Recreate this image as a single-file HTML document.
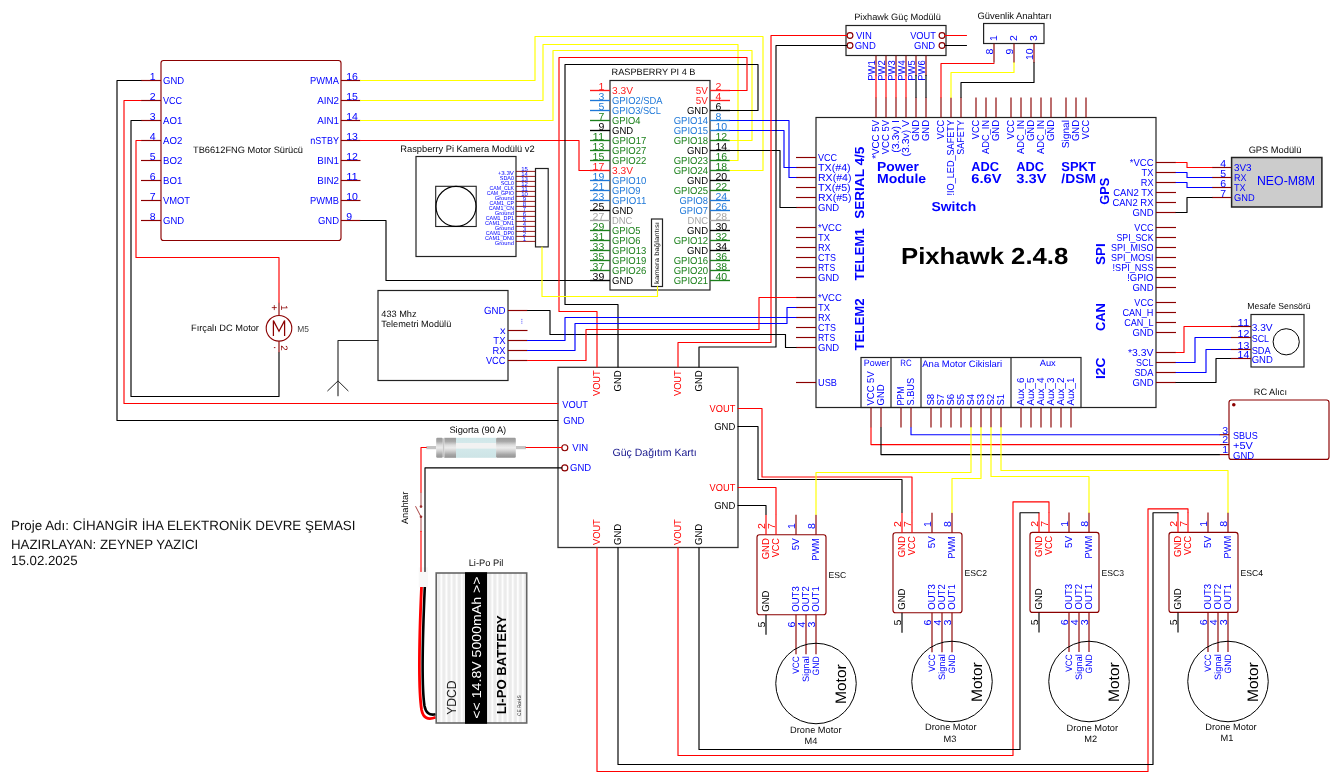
<!DOCTYPE html>
<html><head><meta charset="utf-8"><title>Cihangir IHA Elektronik Devre Semasi</title>
<style>
html,body{margin:0;padding:0;background:#fff;}
body{width:1339px;height:782px;overflow:hidden;}
svg{display:block;font-family:"Liberation Sans",sans-serif;will-change:transform;text-rendering:geometricPrecision;}
text{white-space:pre;}
</style></head><body>
<svg width="1339" height="782" viewBox="0 0 1339 782">
<rect width="1339" height="782" fill="#fff"/>
<defs>
<linearGradient id="gm" x1="0" y1="0" x2="0" y2="1">
<stop offset="0" stop-color="#9a9a9a"/><stop offset="0.18" stop-color="#a8a8a8"/><stop offset="0.36" stop-color="#dcdcdc"/>
<stop offset="0.5" stop-color="#ececec"/><stop offset="0.66" stop-color="#d0d0d0"/><stop offset="0.84" stop-color="#a6a6a6"/><stop offset="1" stop-color="#949494"/>
</linearGradient>
<linearGradient id="gg" x1="0" y1="0" x2="0" y2="1">
<stop offset="0" stop-color="#cfe6e8"/><stop offset="0.24" stop-color="#d4e9eb"/><stop offset="0.27" stop-color="#f2f2f2"/>
<stop offset="0.52" stop-color="#f2f2f2"/><stop offset="0.56" stop-color="#d2e8ea"/><stop offset="1" stop-color="#cde4e6"/>
</linearGradient>
<pattern id="bs" x="436.2" y="0" width="5.1" height="10" patternUnits="userSpaceOnUse">
<rect x="0" y="0" width="5.1" height="10" fill="#fdfdfd"/><rect x="1.1" y="0" width="3" height="10" fill="#ebebeb"/>
</pattern>
</defs>
<rect x="161" y="60.5" width="180" height="180" rx="2.5" stroke="#8b0000" stroke-width="1.15" fill="none"/>
<path d="M141 80.5L161 80.5" stroke="#8b0000" stroke-width="1.15" />
<path d="M341 80.5L360.5 80.5" stroke="#8b0000" stroke-width="1.15" />
<text font-size="10.12" fill="#0000ff" textLength="21.1" lengthAdjust="spacingAndGlyphs" x="163" y="83.9">GND</text>
<text font-size="10.12" fill="#0000ff" text-anchor="end" textLength="28.88" lengthAdjust="spacingAndGlyphs" x="339" y="83.9">PWMA</text>
<text font-size="10.12" fill="#0000ff" text-anchor="end" textLength="5.85" lengthAdjust="spacingAndGlyphs" x="155.5" y="79.7">1</text>
<text font-size="10.12" fill="#0000ff" textLength="11.71" lengthAdjust="spacingAndGlyphs" x="346.2" y="79.7">16</text>
<path d="M141 100.5L161 100.5" stroke="#8b0000" stroke-width="1.15" />
<path d="M341 100.5L360.5 100.5" stroke="#8b0000" stroke-width="1.15" />
<text font-size="10.12" fill="#0000ff" textLength="19.14" lengthAdjust="spacingAndGlyphs" x="163" y="103.9">VCC</text>
<text font-size="10.12" fill="#0000ff" text-anchor="end" textLength="21.74" lengthAdjust="spacingAndGlyphs" x="339" y="103.9">AIN2</text>
<text font-size="10.12" fill="#0000ff" text-anchor="end" textLength="5.85" lengthAdjust="spacingAndGlyphs" x="155.5" y="99.7">2</text>
<text font-size="10.12" fill="#0000ff" textLength="11.71" lengthAdjust="spacingAndGlyphs" x="346.2" y="99.7">15</text>
<path d="M141 120.5L161 120.5" stroke="#8b0000" stroke-width="1.15" />
<path d="M341 120.5L360.5 120.5" stroke="#8b0000" stroke-width="1.15" />
<text font-size="10.12" fill="#0000ff" textLength="19.23" lengthAdjust="spacingAndGlyphs" x="163" y="123.9">AO1</text>
<text font-size="10.12" fill="#0000ff" text-anchor="end" textLength="21.74" lengthAdjust="spacingAndGlyphs" x="339" y="123.9">AIN1</text>
<text font-size="10.12" fill="#0000ff" text-anchor="end" textLength="5.85" lengthAdjust="spacingAndGlyphs" x="155.5" y="119.7">3</text>
<text font-size="10.12" fill="#0000ff" textLength="11.71" lengthAdjust="spacingAndGlyphs" x="346.2" y="119.7">14</text>
<path d="M141 140.5L161 140.5" stroke="#8b0000" stroke-width="1.15" />
<path d="M341 140.5L360.5 140.5" stroke="#8b0000" stroke-width="1.15" />
<text font-size="10.12" fill="#0000ff" textLength="19.23" lengthAdjust="spacingAndGlyphs" x="163" y="143.9">AO2</text>
<text font-size="10.12" fill="#0000ff" text-anchor="end" textLength="28.72" lengthAdjust="spacingAndGlyphs" x="339" y="143.9">nSTBY</text>
<text font-size="10.12" fill="#0000ff" text-anchor="end" textLength="5.85" lengthAdjust="spacingAndGlyphs" x="155.5" y="139.7">4</text>
<text font-size="10.12" fill="#0000ff" textLength="11.71" lengthAdjust="spacingAndGlyphs" x="346.2" y="139.7">13</text>
<path d="M141 160.5L161 160.5" stroke="#8b0000" stroke-width="1.15" />
<path d="M341 160.5L360.5 160.5" stroke="#8b0000" stroke-width="1.15" />
<text font-size="10.12" fill="#0000ff" textLength="19.24" lengthAdjust="spacingAndGlyphs" x="163" y="163.9">BO2</text>
<text font-size="10.12" fill="#0000ff" text-anchor="end" textLength="21.76" lengthAdjust="spacingAndGlyphs" x="339" y="163.9">BIN1</text>
<text font-size="10.12" fill="#0000ff" text-anchor="end" textLength="5.85" lengthAdjust="spacingAndGlyphs" x="155.5" y="159.7">5</text>
<text font-size="10.12" fill="#0000ff" textLength="11.71" lengthAdjust="spacingAndGlyphs" x="346.2" y="159.7">12</text>
<path d="M141 180.5L161 180.5" stroke="#8b0000" stroke-width="1.15" />
<path d="M341 180.5L360.5 180.5" stroke="#8b0000" stroke-width="1.15" />
<text font-size="10.12" fill="#0000ff" textLength="19.24" lengthAdjust="spacingAndGlyphs" x="163" y="183.9">BO1</text>
<text font-size="10.12" fill="#0000ff" text-anchor="end" textLength="21.76" lengthAdjust="spacingAndGlyphs" x="339" y="183.9">BIN2</text>
<text font-size="10.12" fill="#0000ff" text-anchor="end" textLength="5.85" lengthAdjust="spacingAndGlyphs" x="155.5" y="179.7">6</text>
<text font-size="10.12" fill="#0000ff" textLength="11.71" lengthAdjust="spacingAndGlyphs" x="346.2" y="179.7">11</text>
<path d="M141 200.5L161 200.5" stroke="#8b0000" stroke-width="1.15" />
<path d="M341 200.5L360.5 200.5" stroke="#8b0000" stroke-width="1.15" />
<text font-size="10.12" fill="#0000ff" textLength="27.09" lengthAdjust="spacingAndGlyphs" x="163" y="203.9">VMOT</text>
<text font-size="10.12" fill="#0000ff" text-anchor="end" textLength="28.89" lengthAdjust="spacingAndGlyphs" x="339" y="203.9">PWMB</text>
<text font-size="10.12" fill="#0000ff" text-anchor="end" textLength="5.85" lengthAdjust="spacingAndGlyphs" x="155.5" y="199.7">7</text>
<text font-size="10.12" fill="#0000ff" textLength="11.71" lengthAdjust="spacingAndGlyphs" x="346.2" y="199.7">10</text>
<path d="M141 220.5L161 220.5" stroke="#8b0000" stroke-width="1.15" />
<path d="M341 220.5L360.5 220.5" stroke="#8b0000" stroke-width="1.15" />
<text font-size="10.12" fill="#0000ff" textLength="21.1" lengthAdjust="spacingAndGlyphs" x="163" y="223.9">GND</text>
<text font-size="10.12" fill="#0000ff" text-anchor="end" textLength="21.1" lengthAdjust="spacingAndGlyphs" x="339" y="223.9">GND</text>
<text font-size="10.12" fill="#0000ff" text-anchor="end" textLength="5.85" lengthAdjust="spacingAndGlyphs" x="155.5" y="219.7">8</text>
<text font-size="10.12" fill="#0000ff" textLength="5.85" lengthAdjust="spacingAndGlyphs" x="346.2" y="219.7">9</text>
<text font-size="9.25" fill="#0a0a0a" text-anchor="middle" x="248" y="153">TB6612FNG Motor Sürücü</text>
<rect x="610" y="80.5" width="100" height="209.5" stroke="#222" stroke-width="1.2" fill="none"/>
<path d="M590 90.5L610 90.5" stroke="#ff1a1a" stroke-width="1.35" />
<text font-size="10.12" fill="#ff1a1a" textLength="20.92" lengthAdjust="spacingAndGlyphs" x="612" y="93.9">3.3V</text>
<text font-size="10.12" fill="#ff1a1a" text-anchor="end" textLength="5.85" lengthAdjust="spacingAndGlyphs" x="604.3" y="89.7">1</text>
<path d="M710 90.5L730 90.5" stroke="#ff1a1a" stroke-width="1.35" />
<text font-size="10.12" fill="#ff1a1a" text-anchor="end" textLength="12.15" lengthAdjust="spacingAndGlyphs" x="708" y="93.9">5V</text>
<text font-size="10.12" fill="#ff1a1a" textLength="5.85" lengthAdjust="spacingAndGlyphs" x="715.5" y="89.7">2</text>
<path d="M590 100.5L610 100.5" stroke="#1e78d8" stroke-width="1.35" />
<text font-size="10.12" fill="#1e78d8" textLength="50.64" lengthAdjust="spacingAndGlyphs" x="612" y="103.9">GPIO2/SDA</text>
<text font-size="10.12" fill="#1e78d8" text-anchor="end" textLength="5.85" lengthAdjust="spacingAndGlyphs" x="604.3" y="99.7">3</text>
<path d="M710 100.5L730 100.5" stroke="#ff1a1a" stroke-width="1.35" />
<text font-size="10.12" fill="#ff1a1a" text-anchor="end" textLength="12.15" lengthAdjust="spacingAndGlyphs" x="708" y="103.9">5V</text>
<text font-size="10.12" fill="#ff1a1a" textLength="5.85" lengthAdjust="spacingAndGlyphs" x="715.5" y="99.7">4</text>
<path d="M590 110.5L610 110.5" stroke="#1e78d8" stroke-width="1.35" />
<text font-size="10.12" fill="#1e78d8" textLength="48.97" lengthAdjust="spacingAndGlyphs" x="612" y="113.9">GPIO3/SCL</text>
<text font-size="10.12" fill="#1e78d8" text-anchor="end" textLength="5.85" lengthAdjust="spacingAndGlyphs" x="604.3" y="109.7">5</text>
<path d="M710 110.5L730 110.5" stroke="#000" stroke-width="1.35" />
<text font-size="10.12" fill="#000" text-anchor="end" textLength="21.1" lengthAdjust="spacingAndGlyphs" x="708" y="113.9">GND</text>
<text font-size="10.12" fill="#000" textLength="5.85" lengthAdjust="spacingAndGlyphs" x="715.5" y="109.7">6</text>
<path d="M590 120.5L610 120.5" stroke="#1c801c" stroke-width="1.35" />
<text font-size="10.12" fill="#1c801c" textLength="28.49" lengthAdjust="spacingAndGlyphs" x="612" y="123.9">GPIO4</text>
<text font-size="10.12" fill="#1c801c" text-anchor="end" textLength="5.85" lengthAdjust="spacingAndGlyphs" x="604.3" y="119.7">7</text>
<path d="M710 120.5L730 120.5" stroke="#1e78d8" stroke-width="1.35" />
<text font-size="10.12" fill="#1e78d8" text-anchor="end" textLength="34.34" lengthAdjust="spacingAndGlyphs" x="708" y="123.9">GPIO14</text>
<text font-size="10.12" fill="#1e78d8" textLength="5.85" lengthAdjust="spacingAndGlyphs" x="715.5" y="119.7">8</text>
<path d="M590 130.5L610 130.5" stroke="#000" stroke-width="1.35" />
<text font-size="10.12" fill="#000" textLength="21.1" lengthAdjust="spacingAndGlyphs" x="612" y="133.9">GND</text>
<text font-size="10.12" fill="#000" text-anchor="end" textLength="5.85" lengthAdjust="spacingAndGlyphs" x="604.3" y="129.7">9</text>
<path d="M710 130.5L730 130.5" stroke="#1e78d8" stroke-width="1.35" />
<text font-size="10.12" fill="#1e78d8" text-anchor="end" textLength="34.34" lengthAdjust="spacingAndGlyphs" x="708" y="133.9">GPIO15</text>
<text font-size="10.12" fill="#1e78d8" textLength="11.71" lengthAdjust="spacingAndGlyphs" x="715.5" y="129.7">10</text>
<path d="M590 140.5L610 140.5" stroke="#1c801c" stroke-width="1.35" />
<text font-size="10.12" fill="#1c801c" textLength="34.34" lengthAdjust="spacingAndGlyphs" x="612" y="143.9">GPIO17</text>
<text font-size="10.12" fill="#1c801c" text-anchor="end" textLength="11.71" lengthAdjust="spacingAndGlyphs" x="604.3" y="139.7">11</text>
<path d="M710 140.5L730 140.5" stroke="#1c801c" stroke-width="1.35" />
<text font-size="10.12" fill="#1c801c" text-anchor="end" textLength="34.34" lengthAdjust="spacingAndGlyphs" x="708" y="143.9">GPIO18</text>
<text font-size="10.12" fill="#1c801c" textLength="11.71" lengthAdjust="spacingAndGlyphs" x="715.5" y="139.7">12</text>
<path d="M590 150.5L610 150.5" stroke="#1c801c" stroke-width="1.35" />
<text font-size="10.12" fill="#1c801c" textLength="34.34" lengthAdjust="spacingAndGlyphs" x="612" y="153.9">GPIO27</text>
<text font-size="10.12" fill="#1c801c" text-anchor="end" textLength="11.71" lengthAdjust="spacingAndGlyphs" x="604.3" y="149.7">13</text>
<path d="M710 150.5L730 150.5" stroke="#000" stroke-width="1.35" />
<text font-size="10.12" fill="#000" text-anchor="end" textLength="21.1" lengthAdjust="spacingAndGlyphs" x="708" y="153.9">GND</text>
<text font-size="10.12" fill="#000" textLength="11.71" lengthAdjust="spacingAndGlyphs" x="715.5" y="149.7">14</text>
<path d="M590 160.5L610 160.5" stroke="#1c801c" stroke-width="1.35" />
<text font-size="10.12" fill="#1c801c" textLength="34.34" lengthAdjust="spacingAndGlyphs" x="612" y="163.9">GPIO22</text>
<text font-size="10.12" fill="#1c801c" text-anchor="end" textLength="11.71" lengthAdjust="spacingAndGlyphs" x="604.3" y="159.7">15</text>
<path d="M710 160.5L730 160.5" stroke="#1c801c" stroke-width="1.35" />
<text font-size="10.12" fill="#1c801c" text-anchor="end" textLength="34.34" lengthAdjust="spacingAndGlyphs" x="708" y="163.9">GPIO23</text>
<text font-size="10.12" fill="#1c801c" textLength="11.71" lengthAdjust="spacingAndGlyphs" x="715.5" y="159.7">16</text>
<path d="M590 170.5L610 170.5" stroke="#ff1a1a" stroke-width="1.35" />
<text font-size="10.12" fill="#ff1a1a" textLength="20.92" lengthAdjust="spacingAndGlyphs" x="612" y="173.9">3.3V</text>
<text font-size="10.12" fill="#ff1a1a" text-anchor="end" textLength="11.71" lengthAdjust="spacingAndGlyphs" x="604.3" y="169.7">17</text>
<path d="M710 170.5L730 170.5" stroke="#1c801c" stroke-width="1.35" />
<text font-size="10.12" fill="#1c801c" text-anchor="end" textLength="34.34" lengthAdjust="spacingAndGlyphs" x="708" y="173.9">GPIO24</text>
<text font-size="10.12" fill="#1c801c" textLength="11.71" lengthAdjust="spacingAndGlyphs" x="715.5" y="169.7">18</text>
<path d="M590 180.5L610 180.5" stroke="#1e78d8" stroke-width="1.35" />
<text font-size="10.12" fill="#1e78d8" textLength="34.34" lengthAdjust="spacingAndGlyphs" x="612" y="183.9">GPIO10</text>
<text font-size="10.12" fill="#1e78d8" text-anchor="end" textLength="11.71" lengthAdjust="spacingAndGlyphs" x="604.3" y="179.7">19</text>
<path d="M710 180.5L730 180.5" stroke="#000" stroke-width="1.35" />
<text font-size="10.12" fill="#000" text-anchor="end" textLength="21.1" lengthAdjust="spacingAndGlyphs" x="708" y="183.9">GND</text>
<text font-size="10.12" fill="#000" textLength="11.71" lengthAdjust="spacingAndGlyphs" x="715.5" y="179.7">20</text>
<path d="M590 190.5L610 190.5" stroke="#1e78d8" stroke-width="1.35" />
<text font-size="10.12" fill="#1e78d8" textLength="28.49" lengthAdjust="spacingAndGlyphs" x="612" y="193.9">GPIO9</text>
<text font-size="10.12" fill="#1e78d8" text-anchor="end" textLength="11.71" lengthAdjust="spacingAndGlyphs" x="604.3" y="189.7">21</text>
<path d="M710 190.5L730 190.5" stroke="#1c801c" stroke-width="1.35" />
<text font-size="10.12" fill="#1c801c" text-anchor="end" textLength="34.34" lengthAdjust="spacingAndGlyphs" x="708" y="193.9">GPIO25</text>
<text font-size="10.12" fill="#1c801c" textLength="11.71" lengthAdjust="spacingAndGlyphs" x="715.5" y="189.7">22</text>
<path d="M590 200.5L610 200.5" stroke="#1e78d8" stroke-width="1.35" />
<text font-size="10.12" fill="#1e78d8" textLength="34.34" lengthAdjust="spacingAndGlyphs" x="612" y="203.9">GPIO11</text>
<text font-size="10.12" fill="#1e78d8" text-anchor="end" textLength="11.71" lengthAdjust="spacingAndGlyphs" x="604.3" y="199.7">23</text>
<path d="M710 200.5L730 200.5" stroke="#1e78d8" stroke-width="1.35" />
<text font-size="10.12" fill="#1e78d8" text-anchor="end" textLength="28.49" lengthAdjust="spacingAndGlyphs" x="708" y="203.9">GPIO8</text>
<text font-size="10.12" fill="#1e78d8" textLength="11.71" lengthAdjust="spacingAndGlyphs" x="715.5" y="199.7">24</text>
<path d="M590 210.5L610 210.5" stroke="#000" stroke-width="1.35" />
<text font-size="10.12" fill="#000" textLength="21.1" lengthAdjust="spacingAndGlyphs" x="612" y="213.9">GND</text>
<text font-size="10.12" fill="#000" text-anchor="end" textLength="11.71" lengthAdjust="spacingAndGlyphs" x="604.3" y="209.7">25</text>
<path d="M710 210.5L730 210.5" stroke="#1e78d8" stroke-width="1.35" />
<text font-size="10.12" fill="#1e78d8" text-anchor="end" textLength="28.49" lengthAdjust="spacingAndGlyphs" x="708" y="213.9">GPIO7</text>
<text font-size="10.12" fill="#1e78d8" textLength="11.71" lengthAdjust="spacingAndGlyphs" x="715.5" y="209.7">26</text>
<path d="M590 220.5L610 220.5" stroke="#a5a5a5" stroke-width="1.35" />
<text font-size="10.12" fill="#a5a5a5" textLength="20.39" lengthAdjust="spacingAndGlyphs" x="612" y="223.9">DNC</text>
<text font-size="10.12" fill="#a5a5a5" text-anchor="end" textLength="11.71" lengthAdjust="spacingAndGlyphs" x="604.3" y="219.7">27</text>
<path d="M710 220.5L730 220.5" stroke="#a5a5a5" stroke-width="1.35" />
<text font-size="10.12" fill="#a5a5a5" text-anchor="end" textLength="20.39" lengthAdjust="spacingAndGlyphs" x="708" y="223.9">DNC</text>
<text font-size="10.12" fill="#a5a5a5" textLength="11.71" lengthAdjust="spacingAndGlyphs" x="715.5" y="219.7">28</text>
<path d="M590 230.5L610 230.5" stroke="#1c801c" stroke-width="1.35" />
<text font-size="10.12" fill="#1c801c" textLength="28.49" lengthAdjust="spacingAndGlyphs" x="612" y="233.9">GPIO5</text>
<text font-size="10.12" fill="#1c801c" text-anchor="end" textLength="11.71" lengthAdjust="spacingAndGlyphs" x="604.3" y="229.7">29</text>
<path d="M710 230.5L730 230.5" stroke="#000" stroke-width="1.35" />
<text font-size="10.12" fill="#000" text-anchor="end" textLength="21.1" lengthAdjust="spacingAndGlyphs" x="708" y="233.9">GND</text>
<text font-size="10.12" fill="#000" textLength="11.71" lengthAdjust="spacingAndGlyphs" x="715.5" y="229.7">30</text>
<path d="M590 240.5L610 240.5" stroke="#1c801c" stroke-width="1.35" />
<text font-size="10.12" fill="#1c801c" textLength="28.49" lengthAdjust="spacingAndGlyphs" x="612" y="243.9">GPIO6</text>
<text font-size="10.12" fill="#1c801c" text-anchor="end" textLength="11.71" lengthAdjust="spacingAndGlyphs" x="604.3" y="239.7">31</text>
<path d="M710 240.5L730 240.5" stroke="#1c801c" stroke-width="1.35" />
<text font-size="10.12" fill="#1c801c" text-anchor="end" textLength="34.34" lengthAdjust="spacingAndGlyphs" x="708" y="243.9">GPIO12</text>
<text font-size="10.12" fill="#1c801c" textLength="11.71" lengthAdjust="spacingAndGlyphs" x="715.5" y="239.7">32</text>
<path d="M590 250.5L610 250.5" stroke="#1c801c" stroke-width="1.35" />
<text font-size="10.12" fill="#1c801c" textLength="34.34" lengthAdjust="spacingAndGlyphs" x="612" y="253.9">GPIO13</text>
<text font-size="10.12" fill="#1c801c" text-anchor="end" textLength="11.71" lengthAdjust="spacingAndGlyphs" x="604.3" y="249.7">33</text>
<path d="M710 250.5L730 250.5" stroke="#000" stroke-width="1.35" />
<text font-size="10.12" fill="#000" text-anchor="end" textLength="21.1" lengthAdjust="spacingAndGlyphs" x="708" y="253.9">GND</text>
<text font-size="10.12" fill="#000" textLength="11.71" lengthAdjust="spacingAndGlyphs" x="715.5" y="249.7">34</text>
<path d="M590 260.5L610 260.5" stroke="#1c801c" stroke-width="1.35" />
<text font-size="10.12" fill="#1c801c" textLength="34.34" lengthAdjust="spacingAndGlyphs" x="612" y="263.9">GPIO19</text>
<text font-size="10.12" fill="#1c801c" text-anchor="end" textLength="11.71" lengthAdjust="spacingAndGlyphs" x="604.3" y="259.7">35</text>
<path d="M710 260.5L730 260.5" stroke="#1c801c" stroke-width="1.35" />
<text font-size="10.12" fill="#1c801c" text-anchor="end" textLength="34.34" lengthAdjust="spacingAndGlyphs" x="708" y="263.9">GPIO16</text>
<text font-size="10.12" fill="#1c801c" textLength="11.71" lengthAdjust="spacingAndGlyphs" x="715.5" y="259.7">36</text>
<path d="M590 270.5L610 270.5" stroke="#1c801c" stroke-width="1.35" />
<text font-size="10.12" fill="#1c801c" textLength="34.34" lengthAdjust="spacingAndGlyphs" x="612" y="273.9">GPIO26</text>
<text font-size="10.12" fill="#1c801c" text-anchor="end" textLength="11.71" lengthAdjust="spacingAndGlyphs" x="604.3" y="269.7">37</text>
<path d="M710 270.5L730 270.5" stroke="#1c801c" stroke-width="1.35" />
<text font-size="10.12" fill="#1c801c" text-anchor="end" textLength="34.34" lengthAdjust="spacingAndGlyphs" x="708" y="273.9">GPIO20</text>
<text font-size="10.12" fill="#1c801c" textLength="11.71" lengthAdjust="spacingAndGlyphs" x="715.5" y="269.7">38</text>
<path d="M590 280.5L610 280.5" stroke="#000" stroke-width="1.35" />
<text font-size="10.12" fill="#000" textLength="21.1" lengthAdjust="spacingAndGlyphs" x="612" y="283.9">GND</text>
<text font-size="10.12" fill="#000" text-anchor="end" textLength="11.71" lengthAdjust="spacingAndGlyphs" x="604.3" y="279.7">39</text>
<path d="M710 280.5L730 280.5" stroke="#1c801c" stroke-width="1.35" />
<text font-size="10.12" fill="#1c801c" text-anchor="end" textLength="34.34" lengthAdjust="spacingAndGlyphs" x="708" y="283.9">GPIO21</text>
<text font-size="10.12" fill="#1c801c" textLength="11.71" lengthAdjust="spacingAndGlyphs" x="715.5" y="279.7">40</text>
<text font-size="9.2" fill="#0a0a0a" x="611.5" y="75.3">RASPBERRY PI 4 B</text>
<rect x="651.5" y="219" width="11" height="67.5" stroke="#222" stroke-width="1.2" fill="#fff"/>
<text font-size="6.6" fill="#0a0a0a" textLength="62" lengthAdjust="spacingAndGlyphs" transform="translate(659.3 284) rotate(-90)">kamera bağlantısı</text>
<rect x="416" y="156.5" width="100" height="100" stroke="#222" stroke-width="1.2" fill="none"/>
<rect x="435.7" y="186.3" width="40.5" height="40.2" stroke="#222" stroke-width="1.1" fill="none"/>
<circle cx="456" cy="206.4" r="20" stroke="#000" stroke-width="1.1" fill="none"/>
<rect x="535.5" y="168.5" width="12.7" height="78.4" stroke="#222" stroke-width="1.2" fill="#fff"/>
<path d="M516 171.4L535.5 171.4" stroke="#8b0000" stroke-width="0.9" />
<text font-size="5.78" fill="#0000ff" text-anchor="end" textLength="16.34" lengthAdjust="spacingAndGlyphs" x="514" y="174.6">+3.3V</text>
<text font-size="5.78" fill="#0000ff" text-anchor="middle" textLength="6.68" lengthAdjust="spacingAndGlyphs" x="524.5" y="170.8">15</text>
<path d="M516 176.4L535.5 176.4" stroke="#8b0000" stroke-width="0.9" />
<text font-size="5.78" fill="#0000ff" text-anchor="end" textLength="14.21" lengthAdjust="spacingAndGlyphs" x="514" y="179.6">SDA0</text>
<text font-size="5.78" fill="#0000ff" text-anchor="middle" textLength="6.68" lengthAdjust="spacingAndGlyphs" x="524.5" y="175.8">14</text>
<path d="M516 181.4L535.5 181.4" stroke="#8b0000" stroke-width="0.9" />
<text font-size="5.78" fill="#0000ff" text-anchor="end" textLength="13.26" lengthAdjust="spacingAndGlyphs" x="514" y="184.6">SCL0</text>
<text font-size="5.78" fill="#0000ff" text-anchor="middle" textLength="6.68" lengthAdjust="spacingAndGlyphs" x="524.5" y="180.8">13</text>
<path d="M516 186.4L535.5 186.4" stroke="#8b0000" stroke-width="0.9" />
<text font-size="5.78" fill="#0000ff" text-anchor="end" textLength="24.45" lengthAdjust="spacingAndGlyphs" x="514" y="189.6">CAM_CLK</text>
<text font-size="5.78" fill="#0000ff" text-anchor="middle" textLength="6.68" lengthAdjust="spacingAndGlyphs" x="524.5" y="185.8">12</text>
<path d="M516 191.4L535.5 191.4" stroke="#8b0000" stroke-width="0.9" />
<text font-size="5.78" fill="#0000ff" text-anchor="end" textLength="27.33" lengthAdjust="spacingAndGlyphs" x="514" y="194.6">CAM_GPIO</text>
<text font-size="5.78" fill="#0000ff" text-anchor="middle" textLength="6.68" lengthAdjust="spacingAndGlyphs" x="524.5" y="190.8">11</text>
<path d="M516 196.4L535.5 196.4" stroke="#8b0000" stroke-width="0.9" />
<text font-size="5.78" fill="#0000ff" text-anchor="end" textLength="19.31" lengthAdjust="spacingAndGlyphs" x="514" y="199.6">Ground</text>
<text font-size="5.78" fill="#0000ff" text-anchor="middle" textLength="6.68" lengthAdjust="spacingAndGlyphs" x="524.5" y="195.8">10</text>
<path d="M516 201.4L535.5 201.4" stroke="#8b0000" stroke-width="0.9" />
<text font-size="5.78" fill="#0000ff" text-anchor="end" textLength="24.58" lengthAdjust="spacingAndGlyphs" x="514" y="204.6">CAM1_CP</text>
<text font-size="5.78" fill="#0000ff" text-anchor="middle" textLength="3.34" lengthAdjust="spacingAndGlyphs" x="524.5" y="200.8">9</text>
<path d="M516 206.4L535.5 206.4" stroke="#8b0000" stroke-width="0.9" />
<text font-size="5.78" fill="#0000ff" text-anchor="end" textLength="25.35" lengthAdjust="spacingAndGlyphs" x="514" y="209.6">CAM1_CN</text>
<text font-size="5.78" fill="#0000ff" text-anchor="middle" textLength="3.34" lengthAdjust="spacingAndGlyphs" x="524.5" y="205.8">8</text>
<path d="M516 211.4L535.5 211.4" stroke="#8b0000" stroke-width="0.9" />
<text font-size="5.78" fill="#0000ff" text-anchor="end" textLength="19.31" lengthAdjust="spacingAndGlyphs" x="514" y="214.6">Ground</text>
<text font-size="5.78" fill="#0000ff" text-anchor="middle" textLength="3.34" lengthAdjust="spacingAndGlyphs" x="524.5" y="210.8">7</text>
<path d="M516 216.4L535.5 216.4" stroke="#8b0000" stroke-width="0.9" />
<text font-size="5.78" fill="#0000ff" text-anchor="end" textLength="28.3" lengthAdjust="spacingAndGlyphs" x="514" y="219.6">CAM1_DP1</text>
<text font-size="5.78" fill="#0000ff" text-anchor="middle" textLength="3.34" lengthAdjust="spacingAndGlyphs" x="524.5" y="215.8">6</text>
<path d="M516 221.4L535.5 221.4" stroke="#8b0000" stroke-width="0.9" />
<text font-size="5.78" fill="#0000ff" text-anchor="end" textLength="29.06" lengthAdjust="spacingAndGlyphs" x="514" y="224.6">CAM1_DN1</text>
<text font-size="5.78" fill="#0000ff" text-anchor="middle" textLength="3.34" lengthAdjust="spacingAndGlyphs" x="524.5" y="220.8">5</text>
<path d="M516 226.4L535.5 226.4" stroke="#8b0000" stroke-width="0.9" />
<text font-size="5.78" fill="#0000ff" text-anchor="end" textLength="19.31" lengthAdjust="spacingAndGlyphs" x="514" y="229.6">Ground</text>
<text font-size="5.78" fill="#0000ff" text-anchor="middle" textLength="3.34" lengthAdjust="spacingAndGlyphs" x="524.5" y="225.8">4</text>
<path d="M516 231.4L535.5 231.4" stroke="#8b0000" stroke-width="0.9" />
<text font-size="5.78" fill="#0000ff" text-anchor="end" textLength="28.3" lengthAdjust="spacingAndGlyphs" x="514" y="234.6">CAM1_DP0</text>
<text font-size="5.78" fill="#0000ff" text-anchor="middle" textLength="3.34" lengthAdjust="spacingAndGlyphs" x="524.5" y="230.8">3</text>
<path d="M516 236.4L535.5 236.4" stroke="#8b0000" stroke-width="0.9" />
<text font-size="5.78" fill="#0000ff" text-anchor="end" textLength="29.06" lengthAdjust="spacingAndGlyphs" x="514" y="239.6">CAM1_DN0</text>
<text font-size="5.78" fill="#0000ff" text-anchor="middle" textLength="3.34" lengthAdjust="spacingAndGlyphs" x="524.5" y="235.8">2</text>
<path d="M516 241.4L535.5 241.4" stroke="#8b0000" stroke-width="0.9" />
<text font-size="5.78" fill="#0000ff" text-anchor="end" textLength="19.31" lengthAdjust="spacingAndGlyphs" x="514" y="244.6">Ground</text>
<text font-size="5.78" fill="#0000ff" text-anchor="middle" textLength="3.34" lengthAdjust="spacingAndGlyphs" x="524.5" y="240.8">1</text>
<text font-size="9.3" fill="#0a0a0a" x="400.3" y="152">Raspberry Pi Kamera Modülü v2</text>
<rect x="378" y="290.5" width="130" height="90" stroke="#222" stroke-width="1.2" fill="none"/>
<path d="M508 310.5L527.5 310.5" stroke="#8b0000" stroke-width="1.15" />
<text font-size="10.34" fill="#0000ff" text-anchor="end" textLength="21.55" lengthAdjust="spacingAndGlyphs" x="505.5" y="314.4">GND</text>
<path d="M508 330.5L527.5 330.5" stroke="#8b0000" stroke-width="1.15" />
<text font-size="10.34" fill="#0000ff" text-anchor="end" textLength="5.56" lengthAdjust="spacingAndGlyphs" x="505.5" y="334.4">x</text>
<path d="M508 340.5L527.5 340.5" stroke="#8b0000" stroke-width="1.15" />
<text font-size="10.34" fill="#0000ff" text-anchor="end" textLength="12.18" lengthAdjust="spacingAndGlyphs" x="505.5" y="344.4">TX</text>
<path d="M508 350.5L527.5 350.5" stroke="#8b0000" stroke-width="1.15" />
<text font-size="10.34" fill="#0000ff" text-anchor="end" textLength="12.97" lengthAdjust="spacingAndGlyphs" x="505.5" y="354.4">RX</text>
<path d="M508 360.5L527.5 360.5" stroke="#8b0000" stroke-width="1.15" />
<text font-size="10.34" fill="#0000ff" text-anchor="end" textLength="19.56" lengthAdjust="spacingAndGlyphs" x="505.5" y="364.4">VCC</text>
<text font-size="9.2" fill="#0a0a0a" x="381.3" y="317.3">433 Mhz</text>
<text font-size="9.2" fill="#0a0a0a" x="381.3" y="327.3">Telemetri Modülü</text>
<rect x="521.4" y="318.9" width="0.9" height="0.9" fill="#3030ff"/>
<rect x="521.4" y="320.8" width="0.9" height="0.9" fill="#3030ff"/>
<rect x="521.4" y="322.7" width="0.9" height="0.9" fill="#3030ff"/>
<path d="M378 340.5L338 340.5L338 395.7" stroke="#222" stroke-width="1.1" fill="none" stroke-linejoin="round" stroke-linecap="round"/>
<path d="M327.7 390.8L338 380.9L348.1 390.8" stroke="#222" stroke-width="1.0" fill="none" stroke-linejoin="round" stroke-linecap="round"/>
<path d="M279 302.8L279 315.3" stroke="#8b0000" stroke-width="1.15" />
<path d="M279 341.2L279 352.4" stroke="#8b0000" stroke-width="1.15" />
<circle cx="279" cy="328.3" r="12.8" stroke="#8b0000" stroke-width="1.1" fill="#fff"/>
<path d="M273.4 336V320.6L279 331.2L284.6 320.6V336" stroke="#8b0000" stroke-width="1.25" fill="none" stroke-linejoin="miter"/>
<path d="M271.8 307.6H276.8M274.3 305.1V310.1" stroke="#8b0000" stroke-width="0.8" fill="none"/>
<text font-size="9.35" fill="#8b0000" text-anchor="middle" textLength="5.41" lengthAdjust="spacingAndGlyphs" transform="translate(281.3 307.8) rotate(90)">1</text>
<path d="M273.9 347.6H275.4" stroke="#8b0000" stroke-width="0.9" fill="none"/>
<text font-size="9.35" fill="#8b0000" text-anchor="middle" textLength="5.41" lengthAdjust="spacingAndGlyphs" transform="translate(281.3 347.9) rotate(90)">2</text>
<text font-size="8.58" fill="#444" textLength="11.69" lengthAdjust="spacingAndGlyphs" x="297.3" y="331.8">M5</text>
<text font-size="9.27" fill="#0a0a0a" x="191" y="331">Fırçalı DC Motor</text>
<rect x="846" y="25.5" width="100" height="30" stroke="#222" stroke-width="1.2" fill="none"/>
<circle cx="850" cy="35.5" r="2.9" stroke="#8b0000" stroke-width="1.15" fill="#fff"/>
<circle cx="850" cy="45.5" r="2.9" stroke="#8b0000" stroke-width="1.15" fill="#fff"/>
<circle cx="942" cy="35.5" r="2.9" stroke="#8b0000" stroke-width="1.15" fill="#fff"/>
<circle cx="942" cy="45.5" r="2.9" stroke="#8b0000" stroke-width="1.15" fill="#fff"/>
<text font-size="10.12" fill="#0000ff" textLength="15.89" lengthAdjust="spacingAndGlyphs" x="856" y="38.5">VIN</text>
<text font-size="10.12" fill="#0000ff" textLength="21.1" lengthAdjust="spacingAndGlyphs" x="854.7" y="49.4">GND</text>
<text font-size="10.12" fill="#0000ff" text-anchor="end" textLength="25.73" lengthAdjust="spacingAndGlyphs" x="935.9" y="38.5">VOUT</text>
<text font-size="10.12" fill="#0000ff" text-anchor="end" textLength="21.1" lengthAdjust="spacingAndGlyphs" x="935.2" y="49.4">GND</text>
<text font-size="9.22" fill="#0a0a0a" text-anchor="middle" x="897.5" y="20">Pixhawk Güç Modülü</text>
<text font-size="10.12" fill="#0000ff" textLength="20.5" lengthAdjust="spacingAndGlyphs" transform="translate(875 80.7) rotate(-90)">PW1</text>
<text font-size="10.12" fill="#0000ff" textLength="20.5" lengthAdjust="spacingAndGlyphs" transform="translate(885 80.7) rotate(-90)">PW2</text>
<text font-size="10.12" fill="#0000ff" textLength="20.5" lengthAdjust="spacingAndGlyphs" transform="translate(895 80.7) rotate(-90)">PW3</text>
<text font-size="10.12" fill="#0000ff" textLength="20.5" lengthAdjust="spacingAndGlyphs" transform="translate(905 80.7) rotate(-90)">PW4</text>
<text font-size="10.12" fill="#0000ff" textLength="20.5" lengthAdjust="spacingAndGlyphs" transform="translate(915 80.7) rotate(-90)">PW5</text>
<text font-size="10.12" fill="#0000ff" textLength="20.5" lengthAdjust="spacingAndGlyphs" transform="translate(925 80.7) rotate(-90)">PW6</text>
<rect x="983.6" y="23.5" width="60.4" height="20" stroke="#222" stroke-width="1.2" fill="none"/>
<path d="M994 43.5L994 62.8" stroke="#8b0000" stroke-width="1.15" />
<text font-size="10.12" fill="#0000ff" textLength="5.85" lengthAdjust="spacingAndGlyphs" transform="translate(997.35 40.9) rotate(-90)">1</text>
<text font-size="10.12" fill="#0000ff" textLength="5.85" lengthAdjust="spacingAndGlyphs" transform="translate(992.8 54.5) rotate(-90)">8</text>
<path d="M1014 43.5L1014 62.8" stroke="#8b0000" stroke-width="1.15" />
<text font-size="10.12" fill="#0000ff" textLength="5.85" lengthAdjust="spacingAndGlyphs" transform="translate(1017.35 40.9) rotate(-90)">2</text>
<text font-size="10.12" fill="#0000ff" textLength="5.85" lengthAdjust="spacingAndGlyphs" transform="translate(1012.8 54.5) rotate(-90)">9</text>
<path d="M1034 43.5L1034 62.8" stroke="#8b0000" stroke-width="1.15" />
<text font-size="10.12" fill="#0000ff" textLength="5.85" lengthAdjust="spacingAndGlyphs" transform="translate(1037.35 40.9) rotate(-90)">3</text>
<text font-size="10.12" fill="#0000ff" textLength="11.71" lengthAdjust="spacingAndGlyphs" transform="translate(1032.8 60) rotate(-90)">10</text>
<text font-size="9.38" fill="#0a0a0a" text-anchor="middle" x="1014.5" y="19">Güvenlik Anahtarı</text>
<rect x="816" y="117.5" width="340" height="290" stroke="#222" stroke-width="1.2" fill="none"/>
<path d="M876 97.5L876 117.5" stroke="#8b0000" stroke-width="1.15" />
<text font-size="10.12" fill="#0000ff" text-anchor="end" textLength="38.81" lengthAdjust="spacingAndGlyphs" transform="translate(879.4 120) rotate(-90)">*VCC 5V</text>
<path d="M886 97.5L886 117.5" stroke="#8b0000" stroke-width="1.15" />
<text font-size="10.12" fill="#0000ff" text-anchor="end" textLength="34.21" lengthAdjust="spacingAndGlyphs" transform="translate(889.4 120) rotate(-90)">VCC 5V</text>
<path d="M896 97.5L896 117.5" stroke="#8b0000" stroke-width="1.15" />
<text font-size="10.12" fill="#0000ff" text-anchor="end" textLength="32.89" lengthAdjust="spacingAndGlyphs" transform="translate(899.4 120) rotate(-90)">(3.3v) I</text>
<path d="M906 97.5L906 117.5" stroke="#8b0000" stroke-width="1.15" />
<text font-size="10.12" fill="#0000ff" text-anchor="end" textLength="36.47" lengthAdjust="spacingAndGlyphs" transform="translate(909.4 120) rotate(-90)">(3.3v) V</text>
<path d="M916 97.5L916 117.5" stroke="#8b0000" stroke-width="1.15" />
<text font-size="10.12" fill="#0000ff" text-anchor="end" textLength="21.1" lengthAdjust="spacingAndGlyphs" transform="translate(919.4 120) rotate(-90)">GND</text>
<path d="M926 97.5L926 117.5" stroke="#8b0000" stroke-width="1.15" />
<text font-size="10.12" fill="#0000ff" text-anchor="end" textLength="21.1" lengthAdjust="spacingAndGlyphs" transform="translate(929.4 120) rotate(-90)">GND</text>
<path d="M941 97.5L941 117.5" stroke="#8b0000" stroke-width="1.15" />
<text font-size="10.12" fill="#0000ff" text-anchor="end" textLength="19.14" lengthAdjust="spacingAndGlyphs" transform="translate(944.4 120) rotate(-90)">VCC</text>
<path d="M951 97.5L951 117.5" stroke="#8b0000" stroke-width="1.15" />
<text font-size="10.12" fill="#0000ff" text-anchor="end" textLength="75.51" lengthAdjust="spacingAndGlyphs" transform="translate(954.4 120) rotate(-90)">!IO_LED_SAFETY</text>
<path d="M961 97.5L961 117.5" stroke="#8b0000" stroke-width="1.15" />
<text font-size="10.12" fill="#0000ff" text-anchor="end" textLength="34.65" lengthAdjust="spacingAndGlyphs" transform="translate(964.4 120) rotate(-90)">SAFETY</text>
<path d="M976 97.5L976 117.5" stroke="#8b0000" stroke-width="1.15" />
<text font-size="10.12" fill="#0000ff" text-anchor="end" textLength="19.14" lengthAdjust="spacingAndGlyphs" transform="translate(979.4 120) rotate(-90)">VCC</text>
<path d="M986 97.5L986 117.5" stroke="#8b0000" stroke-width="1.15" />
<text font-size="10.12" fill="#0000ff" text-anchor="end" textLength="34" lengthAdjust="spacingAndGlyphs" transform="translate(989.4 120) rotate(-90)">ADC_IN</text>
<path d="M996 97.5L996 117.5" stroke="#8b0000" stroke-width="1.15" />
<text font-size="10.12" fill="#0000ff" text-anchor="end" textLength="21.1" lengthAdjust="spacingAndGlyphs" transform="translate(999.4 120) rotate(-90)">GND</text>
<path d="M1011 97.5L1011 117.5" stroke="#8b0000" stroke-width="1.15" />
<text font-size="10.12" fill="#0000ff" text-anchor="end" textLength="19.14" lengthAdjust="spacingAndGlyphs" transform="translate(1014.4 120) rotate(-90)">VCC</text>
<path d="M1021 97.5L1021 117.5" stroke="#8b0000" stroke-width="1.15" />
<text font-size="10.12" fill="#0000ff" text-anchor="end" textLength="34" lengthAdjust="spacingAndGlyphs" transform="translate(1024.4 120) rotate(-90)">ADC_IN</text>
<path d="M1031 97.5L1031 117.5" stroke="#8b0000" stroke-width="1.15" />
<text font-size="10.12" fill="#0000ff" text-anchor="end" textLength="21.1" lengthAdjust="spacingAndGlyphs" transform="translate(1034.4 120) rotate(-90)">GND</text>
<path d="M1041 97.5L1041 117.5" stroke="#8b0000" stroke-width="1.15" />
<text font-size="10.12" fill="#0000ff" text-anchor="end" textLength="34" lengthAdjust="spacingAndGlyphs" transform="translate(1044.4 120) rotate(-90)">ADC_IN</text>
<path d="M1051 97.5L1051 117.5" stroke="#8b0000" stroke-width="1.15" />
<text font-size="10.12" fill="#0000ff" text-anchor="end" textLength="21.1" lengthAdjust="spacingAndGlyphs" transform="translate(1054.4 120) rotate(-90)">GND</text>
<path d="M1066 97.5L1066 117.5" stroke="#8b0000" stroke-width="1.15" />
<text font-size="10.12" fill="#0000ff" text-anchor="end" textLength="28.26" lengthAdjust="spacingAndGlyphs" transform="translate(1069.4 120) rotate(-90)">Signal</text>
<path d="M1076 97.5L1076 117.5" stroke="#8b0000" stroke-width="1.15" />
<text font-size="10.12" fill="#0000ff" text-anchor="end" textLength="21.1" lengthAdjust="spacingAndGlyphs" transform="translate(1079.4 120) rotate(-90)">GND</text>
<path d="M1086 97.5L1086 117.5" stroke="#8b0000" stroke-width="1.15" />
<text font-size="10.12" fill="#0000ff" text-anchor="end" textLength="19.14" lengthAdjust="spacingAndGlyphs" transform="translate(1089.4 120) rotate(-90)">VCC</text>
<path d="M796 157.5L816 157.5" stroke="#8b0000" stroke-width="1.15" />
<text font-size="10.12" fill="#0000ff" textLength="19.14" lengthAdjust="spacingAndGlyphs" x="818" y="160.9">VCC</text>
<path d="M796 167.5L816 167.5" stroke="#8b0000" stroke-width="1.15" />
<text font-size="10.12" fill="#0000ff" textLength="32.66" lengthAdjust="spacingAndGlyphs" x="818" y="170.9">TX(#4)</text>
<path d="M796 177.5L816 177.5" stroke="#8b0000" stroke-width="1.15" />
<text font-size="10.12" fill="#0000ff" textLength="33.44" lengthAdjust="spacingAndGlyphs" x="818" y="180.9">RX(#4)</text>
<path d="M796 187.5L816 187.5" stroke="#8b0000" stroke-width="1.15" />
<text font-size="10.12" fill="#0000ff" textLength="32.66" lengthAdjust="spacingAndGlyphs" x="818" y="190.9">TX(#5)</text>
<path d="M796 197.5L816 197.5" stroke="#8b0000" stroke-width="1.15" />
<text font-size="10.12" fill="#0000ff" textLength="33.44" lengthAdjust="spacingAndGlyphs" x="818" y="200.9">RX(#5)</text>
<path d="M796 207.5L816 207.5" stroke="#8b0000" stroke-width="1.15" />
<text font-size="10.12" fill="#0000ff" textLength="21.1" lengthAdjust="spacingAndGlyphs" x="818" y="210.9">GND</text>
<path d="M796 227.5L816 227.5" stroke="#8b0000" stroke-width="1.15" />
<text font-size="10.12" fill="#0000ff" textLength="23.74" lengthAdjust="spacingAndGlyphs" x="818" y="230.9">*VCC</text>
<path d="M796 237.5L816 237.5" stroke="#8b0000" stroke-width="1.15" />
<text font-size="10.12" fill="#0000ff" textLength="11.92" lengthAdjust="spacingAndGlyphs" x="818" y="240.9">TX</text>
<path d="M796 247.5L816 247.5" stroke="#8b0000" stroke-width="1.15" />
<text font-size="10.12" fill="#0000ff" textLength="12.7" lengthAdjust="spacingAndGlyphs" x="818" y="250.9">RX</text>
<path d="M796 257.5L816 257.5" stroke="#8b0000" stroke-width="1.15" />
<text font-size="10.12" fill="#0000ff" textLength="17.88" lengthAdjust="spacingAndGlyphs" x="818" y="260.9">CTS</text>
<path d="M796 267.5L816 267.5" stroke="#8b0000" stroke-width="1.15" />
<text font-size="10.12" fill="#0000ff" textLength="17.18" lengthAdjust="spacingAndGlyphs" x="818" y="270.9">RTS</text>
<path d="M796 277.5L816 277.5" stroke="#8b0000" stroke-width="1.15" />
<text font-size="10.12" fill="#0000ff" textLength="21.1" lengthAdjust="spacingAndGlyphs" x="818" y="280.9">GND</text>
<path d="M796 297.5L816 297.5" stroke="#8b0000" stroke-width="1.15" />
<text font-size="10.12" fill="#0000ff" textLength="23.74" lengthAdjust="spacingAndGlyphs" x="818" y="300.9">*VCC</text>
<path d="M796 307.5L816 307.5" stroke="#8b0000" stroke-width="1.15" />
<text font-size="10.12" fill="#0000ff" textLength="11.92" lengthAdjust="spacingAndGlyphs" x="818" y="310.9">TX</text>
<path d="M796 317.5L816 317.5" stroke="#8b0000" stroke-width="1.15" />
<text font-size="10.12" fill="#0000ff" textLength="12.7" lengthAdjust="spacingAndGlyphs" x="818" y="320.9">RX</text>
<path d="M796 327.5L816 327.5" stroke="#8b0000" stroke-width="1.15" />
<text font-size="10.12" fill="#0000ff" textLength="17.88" lengthAdjust="spacingAndGlyphs" x="818" y="330.9">CTS</text>
<path d="M796 337.5L816 337.5" stroke="#8b0000" stroke-width="1.15" />
<text font-size="10.12" fill="#0000ff" textLength="17.18" lengthAdjust="spacingAndGlyphs" x="818" y="340.9">RTS</text>
<path d="M796 347.5L816 347.5" stroke="#8b0000" stroke-width="1.15" />
<text font-size="10.12" fill="#0000ff" textLength="21.1" lengthAdjust="spacingAndGlyphs" x="818" y="350.9">GND</text>
<path d="M796 382.5L816 382.5" stroke="#8b0000" stroke-width="1.15" />
<text font-size="10.12" fill="#0000ff" textLength="18.89" lengthAdjust="spacingAndGlyphs" x="818" y="385.9">USB</text>
<path d="M1156 162.5L1176 162.5" stroke="#8b0000" stroke-width="1.15" />
<text font-size="10.12" fill="#0000ff" text-anchor="end" textLength="23.74" lengthAdjust="spacingAndGlyphs" x="1153.5" y="165.9">*VCC</text>
<path d="M1156 172.5L1176 172.5" stroke="#8b0000" stroke-width="1.15" />
<text font-size="10.12" fill="#0000ff" text-anchor="end" textLength="11.92" lengthAdjust="spacingAndGlyphs" x="1153.5" y="175.9">TX</text>
<path d="M1156 182.5L1176 182.5" stroke="#8b0000" stroke-width="1.15" />
<text font-size="10.12" fill="#0000ff" text-anchor="end" textLength="12.7" lengthAdjust="spacingAndGlyphs" x="1153.5" y="185.9">RX</text>
<path d="M1156 192.5L1176 192.5" stroke="#8b0000" stroke-width="1.15" />
<text font-size="10.12" fill="#0000ff" text-anchor="end" textLength="40.3" lengthAdjust="spacingAndGlyphs" x="1153.5" y="195.9">CAN2 TX</text>
<path d="M1156 202.5L1176 202.5" stroke="#8b0000" stroke-width="1.15" />
<text font-size="10.12" fill="#0000ff" text-anchor="end" textLength="41.07" lengthAdjust="spacingAndGlyphs" x="1153.5" y="205.9">CAN2 RX</text>
<path d="M1156 212.5L1176 212.5" stroke="#8b0000" stroke-width="1.15" />
<text font-size="10.12" fill="#0000ff" text-anchor="end" textLength="21.1" lengthAdjust="spacingAndGlyphs" x="1153.5" y="215.9">GND</text>
<path d="M1156 227.5L1176 227.5" stroke="#8b0000" stroke-width="1.15" />
<text font-size="10.12" fill="#0000ff" text-anchor="end" textLength="19.14" lengthAdjust="spacingAndGlyphs" x="1153.5" y="230.9">VCC</text>
<path d="M1156 237.5L1176 237.5" stroke="#8b0000" stroke-width="1.15" />
<text font-size="10.12" fill="#0000ff" text-anchor="end" textLength="37" lengthAdjust="spacingAndGlyphs" x="1153.5" y="240.9">SPI_SCK</text>
<path d="M1156 247.5L1176 247.5" stroke="#8b0000" stroke-width="1.15" />
<text font-size="10.12" fill="#0000ff" text-anchor="end" textLength="42.43" lengthAdjust="spacingAndGlyphs" x="1153.5" y="250.9">SPI_MISO</text>
<path d="M1156 257.5L1176 257.5" stroke="#8b0000" stroke-width="1.15" />
<text font-size="10.12" fill="#0000ff" text-anchor="end" textLength="42.43" lengthAdjust="spacingAndGlyphs" x="1153.5" y="260.9">SPI_MOSI</text>
<path d="M1156 267.5L1176 267.5" stroke="#8b0000" stroke-width="1.15" />
<text font-size="10.12" fill="#0000ff" text-anchor="end" textLength="40.95" lengthAdjust="spacingAndGlyphs" x="1153.5" y="270.9">!SPI_NSS</text>
<path d="M1156 277.5L1176 277.5" stroke="#8b0000" stroke-width="1.15" />
<text font-size="10.12" fill="#0000ff" text-anchor="end" textLength="26.32" lengthAdjust="spacingAndGlyphs" x="1153.5" y="280.9">!GPIO</text>
<path d="M1156 287.5L1176 287.5" stroke="#8b0000" stroke-width="1.15" />
<text font-size="10.12" fill="#0000ff" text-anchor="end" textLength="21.1" lengthAdjust="spacingAndGlyphs" x="1153.5" y="290.9">GND</text>
<path d="M1156 302.5L1176 302.5" stroke="#8b0000" stroke-width="1.15" />
<text font-size="10.12" fill="#0000ff" text-anchor="end" textLength="19.14" lengthAdjust="spacingAndGlyphs" x="1153.5" y="305.9">VCC</text>
<path d="M1156 312.5L1176 312.5" stroke="#8b0000" stroke-width="1.15" />
<text font-size="10.12" fill="#0000ff" text-anchor="end" textLength="31.12" lengthAdjust="spacingAndGlyphs" x="1153.5" y="315.9">CAN_H</text>
<path d="M1156 322.5L1176 322.5" stroke="#8b0000" stroke-width="1.15" />
<text font-size="10.12" fill="#0000ff" text-anchor="end" textLength="29.32" lengthAdjust="spacingAndGlyphs" x="1153.5" y="325.9">CAN_L</text>
<path d="M1156 332.5L1176 332.5" stroke="#8b0000" stroke-width="1.15" />
<text font-size="10.12" fill="#0000ff" text-anchor="end" textLength="21.1" lengthAdjust="spacingAndGlyphs" x="1153.5" y="335.9">GND</text>
<path d="M1156 352.5L1176 352.5" stroke="#8b0000" stroke-width="1.15" />
<text font-size="10.12" fill="#0000ff" text-anchor="end" textLength="25.52" lengthAdjust="spacingAndGlyphs" x="1153.5" y="355.9">*3.3V</text>
<path d="M1156 362.5L1176 362.5" stroke="#8b0000" stroke-width="1.15" />
<text font-size="10.12" fill="#0000ff" text-anchor="end" textLength="17.39" lengthAdjust="spacingAndGlyphs" x="1153.5" y="365.9">SCL</text>
<path d="M1156 372.5L1176 372.5" stroke="#8b0000" stroke-width="1.15" />
<text font-size="10.12" fill="#0000ff" text-anchor="end" textLength="19.06" lengthAdjust="spacingAndGlyphs" x="1153.5" y="375.9">SDA</text>
<path d="M1156 382.5L1176 382.5" stroke="#8b0000" stroke-width="1.15" />
<text font-size="10.12" fill="#0000ff" text-anchor="end" textLength="21.1" lengthAdjust="spacingAndGlyphs" x="1153.5" y="385.9">GND</text>
<rect x="861" y="357.5" width="220" height="50" stroke="#222" stroke-width="1.2" fill="none"/>
<path d="M891 357.5L891 407.5" stroke="#222" stroke-width="1.2" />
<path d="M921 357.5L921 407.5" stroke="#222" stroke-width="1.2" />
<path d="M1011 357.5L1011 407.5" stroke="#222" stroke-width="1.2" />
<text font-size="9.24" fill="#0000ff" text-anchor="middle" textLength="25.4" lengthAdjust="spacingAndGlyphs" x="876.5" y="365.5">Power</text>
<text font-size="9.24" fill="#0000ff" text-anchor="middle" textLength="11.28" lengthAdjust="spacingAndGlyphs" x="906" y="365.5">RC</text>
<text font-size="9.35" fill="#0000ff" text-anchor="middle" textLength="79.81" lengthAdjust="spacingAndGlyphs" x="962.2" y="366.5">Ana Motor Cikislari</text>
<text font-size="9.24" fill="#0000ff" text-anchor="middle" textLength="16.04" lengthAdjust="spacingAndGlyphs" x="1047.7" y="365.5">Aux</text>
<path d="M871 407.5L871 427.5" stroke="#8b0000" stroke-width="1.15" />
<text font-size="10.12" fill="#0000ff" textLength="34.21" lengthAdjust="spacingAndGlyphs" transform="translate(874.4 405.5) rotate(-90)">VCC 5V</text>
<path d="M881 407.5L881 427.5" stroke="#8b0000" stroke-width="1.15" />
<text font-size="10.12" fill="#0000ff" textLength="21.1" lengthAdjust="spacingAndGlyphs" transform="translate(884.4 405.5) rotate(-90)">GND</text>
<path d="M901 407.5L901 427.5" stroke="#8b0000" stroke-width="1.15" />
<text font-size="10.12" fill="#0000ff" textLength="19.03" lengthAdjust="spacingAndGlyphs" transform="translate(904.4 405.5) rotate(-90)">PPM</text>
<path d="M911 407.5L911 427.5" stroke="#8b0000" stroke-width="1.15" />
<text font-size="10.12" fill="#0000ff" textLength="27.65" lengthAdjust="spacingAndGlyphs" transform="translate(914.4 405.5) rotate(-90)">S.BUS</text>
<path d="M931 407.5L931 427.5" stroke="#8b0000" stroke-width="1.15" />
<text font-size="10.12" fill="#0000ff" textLength="11.69" lengthAdjust="spacingAndGlyphs" transform="translate(934.4 405.5) rotate(-90)">S8</text>
<path d="M941 407.5L941 427.5" stroke="#8b0000" stroke-width="1.15" />
<text font-size="10.12" fill="#0000ff" textLength="11.69" lengthAdjust="spacingAndGlyphs" transform="translate(944.4 405.5) rotate(-90)">S7</text>
<path d="M951 407.5L951 427.5" stroke="#8b0000" stroke-width="1.15" />
<text font-size="10.12" fill="#0000ff" textLength="11.69" lengthAdjust="spacingAndGlyphs" transform="translate(954.4 405.5) rotate(-90)">S6</text>
<path d="M961 407.5L961 427.5" stroke="#8b0000" stroke-width="1.15" />
<text font-size="10.12" fill="#0000ff" textLength="11.69" lengthAdjust="spacingAndGlyphs" transform="translate(964.4 405.5) rotate(-90)">S5</text>
<path d="M971 407.5L971 427.5" stroke="#8b0000" stroke-width="1.15" />
<text font-size="10.12" fill="#0000ff" textLength="11.69" lengthAdjust="spacingAndGlyphs" transform="translate(974.4 405.5) rotate(-90)">S4</text>
<path d="M981 407.5L981 427.5" stroke="#8b0000" stroke-width="1.15" />
<text font-size="10.12" fill="#0000ff" textLength="11.69" lengthAdjust="spacingAndGlyphs" transform="translate(984.4 405.5) rotate(-90)">S3</text>
<path d="M991 407.5L991 427.5" stroke="#8b0000" stroke-width="1.15" />
<text font-size="10.12" fill="#0000ff" textLength="11.69" lengthAdjust="spacingAndGlyphs" transform="translate(994.4 405.5) rotate(-90)">S2</text>
<path d="M1001 407.5L1001 427.5" stroke="#8b0000" stroke-width="1.15" />
<text font-size="10.12" fill="#0000ff" textLength="11.69" lengthAdjust="spacingAndGlyphs" transform="translate(1004.4 405.5) rotate(-90)">S1</text>
<path d="M1021 407.5L1021 427.5" stroke="#8b0000" stroke-width="1.15" />
<text font-size="10.12" fill="#0000ff" textLength="28.02" lengthAdjust="spacingAndGlyphs" transform="translate(1024.4 405.5) rotate(-90)">Aux_6</text>
<path d="M1031 407.5L1031 427.5" stroke="#8b0000" stroke-width="1.15" />
<text font-size="10.12" fill="#0000ff" textLength="28.02" lengthAdjust="spacingAndGlyphs" transform="translate(1034.4 405.5) rotate(-90)">Aux_5</text>
<path d="M1041 407.5L1041 427.5" stroke="#8b0000" stroke-width="1.15" />
<text font-size="10.12" fill="#0000ff" textLength="28.02" lengthAdjust="spacingAndGlyphs" transform="translate(1044.4 405.5) rotate(-90)">Aux_4</text>
<path d="M1051 407.5L1051 427.5" stroke="#8b0000" stroke-width="1.15" />
<text font-size="10.12" fill="#0000ff" textLength="28.02" lengthAdjust="spacingAndGlyphs" transform="translate(1054.4 405.5) rotate(-90)">Aux_3</text>
<path d="M1061 407.5L1061 427.5" stroke="#8b0000" stroke-width="1.15" />
<text font-size="10.12" fill="#0000ff" textLength="28.02" lengthAdjust="spacingAndGlyphs" transform="translate(1064.4 405.5) rotate(-90)">Aux_2</text>
<path d="M1071 407.5L1071 427.5" stroke="#8b0000" stroke-width="1.15" />
<text font-size="10.12" fill="#0000ff" textLength="28.02" lengthAdjust="spacingAndGlyphs" transform="translate(1074.4 405.5) rotate(-90)">Aux_1</text>
<text font-size="13.09" fill="#0000ff" font-weight="bold" textLength="41.83" lengthAdjust="spacingAndGlyphs" x="877" y="170.8">Power</text>
<text font-size="13.09" fill="#0000ff" font-weight="bold" textLength="49.16" lengthAdjust="spacingAndGlyphs" x="877" y="182.8">Module</text>
<text font-size="13.09" fill="#0000ff" font-weight="bold" textLength="27.82" lengthAdjust="spacingAndGlyphs" x="971.3" y="170.8">ADC</text>
<text font-size="13.09" fill="#0000ff" font-weight="bold" textLength="30.29" lengthAdjust="spacingAndGlyphs" x="971.3" y="182.8">6.6V</text>
<text font-size="13.09" fill="#0000ff" font-weight="bold" textLength="27.82" lengthAdjust="spacingAndGlyphs" x="1016.3" y="170.8">ADC</text>
<text font-size="13.09" fill="#0000ff" font-weight="bold" textLength="30.29" lengthAdjust="spacingAndGlyphs" x="1016.3" y="182.8">3.3V</text>
<text font-size="13.09" fill="#0000ff" font-weight="bold" textLength="34.63" lengthAdjust="spacingAndGlyphs" x="1061.3" y="170.8">SPKT</text>
<text font-size="13.09" fill="#0000ff" font-weight="bold" textLength="34.64" lengthAdjust="spacingAndGlyphs" x="1061.3" y="182.8">/DSM</text>
<text font-size="13.09" fill="#0000ff" font-weight="bold" textLength="44.86" lengthAdjust="spacingAndGlyphs" x="931.5" y="211.3">Switch</text>
<text font-size="23.32" fill="#000" font-weight="bold" textLength="167.3" lengthAdjust="spacingAndGlyphs" x="901" y="264.2">Pixhawk 2.4.8</text>
<text font-size="13.09" fill="#0000ff" font-weight="bold" textLength="72.13" lengthAdjust="spacingAndGlyphs" transform="translate(863.8 218.8) rotate(-90)">SERIAL 4/5</text>
<text font-size="13.09" fill="#0000ff" font-weight="bold" textLength="52.08" lengthAdjust="spacingAndGlyphs" transform="translate(863.8 280.5) rotate(-90)">TELEM1</text>
<text font-size="13.09" fill="#0000ff" font-weight="bold" textLength="52.08" lengthAdjust="spacingAndGlyphs" transform="translate(863.8 350.5) rotate(-90)">TELEM2</text>
<text font-size="13.09" fill="#0000ff" font-weight="bold" textLength="27.06" lengthAdjust="spacingAndGlyphs" transform="translate(1109 204.7) rotate(-90)">GPS</text>
<text font-size="13.09" fill="#0000ff" font-weight="bold" textLength="21.72" lengthAdjust="spacingAndGlyphs" transform="translate(1105 265) rotate(-90)">SPI</text>
<text font-size="13.09" fill="#0000ff" font-weight="bold" textLength="27.9" lengthAdjust="spacingAndGlyphs" transform="translate(1105 331) rotate(-90)">CAN</text>
<text font-size="13.09" fill="#0000ff" font-weight="bold" textLength="21.44" lengthAdjust="spacingAndGlyphs" transform="translate(1105 379) rotate(-90)">I2C</text>
<rect x="1231.6" y="157.5" width="90.3" height="49.5" stroke="#222" stroke-width="1.5" fill="#cccccc"/>
<path d="M1212 167.5L1231 167.5" stroke="#8b0000" stroke-width="1.15" />
<text font-size="9.9" fill="#0000ff" textLength="17.61" lengthAdjust="spacingAndGlyphs" x="1234" y="171">3V3</text>
<text font-size="10.12" fill="#0000ff" text-anchor="end" textLength="5.85" lengthAdjust="spacingAndGlyphs" x="1226" y="166.7">4</text>
<path d="M1212 177.5L1231 177.5" stroke="#8b0000" stroke-width="1.15" />
<text font-size="9.9" fill="#0000ff" textLength="12.42" lengthAdjust="spacingAndGlyphs" x="1234" y="181">RX</text>
<text font-size="10.12" fill="#0000ff" text-anchor="end" textLength="5.85" lengthAdjust="spacingAndGlyphs" x="1226" y="176.7">5</text>
<path d="M1212 187.5L1231 187.5" stroke="#8b0000" stroke-width="1.15" />
<text font-size="9.9" fill="#0000ff" textLength="11.66" lengthAdjust="spacingAndGlyphs" x="1234" y="191">TX</text>
<text font-size="10.12" fill="#0000ff" text-anchor="end" textLength="5.85" lengthAdjust="spacingAndGlyphs" x="1226" y="186.7">6</text>
<path d="M1212 197.5L1231 197.5" stroke="#8b0000" stroke-width="1.15" />
<text font-size="9.9" fill="#0000ff" textLength="20.64" lengthAdjust="spacingAndGlyphs" x="1234" y="201">GND</text>
<text font-size="10.12" fill="#0000ff" text-anchor="end" textLength="5.85" lengthAdjust="spacingAndGlyphs" x="1226" y="196.7">7</text>
<text font-size="12.98" fill="#0000ff" textLength="58.03" lengthAdjust="spacingAndGlyphs" x="1257" y="184.6">NEO-M8M</text>
<text font-size="9.3" fill="#0a0a0a" text-anchor="middle" x="1275" y="152.9">GPS Modülü</text>
<rect x="1251" y="314.5" width="53" height="52.5" stroke="#222" stroke-width="1.2" fill="none"/>
<circle cx="1286.2" cy="341.8" r="13.1" stroke="#000" stroke-width="1.0" fill="none"/>
<path d="M1230.5 326.5L1251 326.5" stroke="#8b0000" stroke-width="1.15" />
<text font-size="10.12" fill="#0000ff" textLength="20.92" lengthAdjust="spacingAndGlyphs" x="1251.7" y="330.6">3.3V</text>
<text font-size="10.12" fill="#0000ff" text-anchor="end" textLength="11.71" lengthAdjust="spacingAndGlyphs" x="1249.3" y="325.7">11</text>
<path d="M1230.5 337.5L1251 337.5" stroke="#8b0000" stroke-width="1.15" />
<text font-size="10.12" fill="#0000ff" textLength="17.39" lengthAdjust="spacingAndGlyphs" x="1251.7" y="341.6">SCL</text>
<text font-size="10.12" fill="#0000ff" text-anchor="end" textLength="11.71" lengthAdjust="spacingAndGlyphs" x="1249.3" y="336.7">12</text>
<path d="M1230.5 349.5L1251 349.5" stroke="#8b0000" stroke-width="1.15" />
<text font-size="10.12" fill="#0000ff" textLength="19.06" lengthAdjust="spacingAndGlyphs" x="1251.7" y="353.6">SDA</text>
<text font-size="10.12" fill="#0000ff" text-anchor="end" textLength="11.71" lengthAdjust="spacingAndGlyphs" x="1249.3" y="348.7">13</text>
<path d="M1230.5 358.5L1251 358.5" stroke="#8b0000" stroke-width="1.15" />
<text font-size="10.12" fill="#0000ff" textLength="21.1" lengthAdjust="spacingAndGlyphs" x="1251.7" y="362.6">GND</text>
<text font-size="10.12" fill="#0000ff" text-anchor="end" textLength="11.71" lengthAdjust="spacingAndGlyphs" x="1249.3" y="357.7">14</text>
<text font-size="8.7" fill="#0a0a0a" text-anchor="middle" x="1279" y="308.9">Mesafe Sensörü</text>
<rect x="1229" y="400" width="100" height="59.4" rx="2.5" stroke="#8b0000" stroke-width="1.15" fill="none"/>
<circle cx="1233.8" cy="404.7" r="1.8" fill="#8b0000"/>
<path d="M1219.5 434.7L1229 434.7" stroke="#8b0000" stroke-width="1.15" />
<text font-size="10.12" fill="#0000ff" textLength="24.72" lengthAdjust="spacingAndGlyphs" x="1233" y="438.5">SBUS</text>
<text font-size="10.12" fill="#0000ff" text-anchor="end" textLength="5.85" lengthAdjust="spacingAndGlyphs" x="1228.2" y="433.5">3</text>
<path d="M1219.5 444.6L1229 444.6" stroke="#8b0000" stroke-width="1.15" />
<text font-size="10.12" fill="#0000ff" textLength="19.86" lengthAdjust="spacingAndGlyphs" x="1233" y="448.6">+5V</text>
<text font-size="10.12" fill="#0000ff" text-anchor="end" textLength="5.85" lengthAdjust="spacingAndGlyphs" x="1228.2" y="443.4">2</text>
<path d="M1219.5 454.6L1229 454.6" stroke="#8b0000" stroke-width="1.15" />
<text font-size="10.12" fill="#0000ff" textLength="21.1" lengthAdjust="spacingAndGlyphs" x="1233" y="458.7">GND</text>
<text font-size="10.12" fill="#0000ff" text-anchor="end" textLength="5.85" lengthAdjust="spacingAndGlyphs" x="1228.2" y="453.4">1</text>
<text font-size="9.2" fill="#0a0a0a" text-anchor="middle" x="1270.4" y="394.9">RC Alıcı</text>
<rect x="558" y="367.3" width="180" height="180.2" stroke="#333" stroke-width="1.3" fill="none"/>
<text font-size="10.12" fill="#0000ff" textLength="25.73" lengthAdjust="spacingAndGlyphs" x="562.3" y="407.8">VOUT</text>
<text font-size="10.12" fill="#0000ff" textLength="21.1" lengthAdjust="spacingAndGlyphs" x="563.3" y="423.9">GND</text>
<text font-size="10.12" fill="#0000ff" textLength="15.89" lengthAdjust="spacingAndGlyphs" x="572.3" y="451">VIN</text>
<text font-size="10.12" fill="#0000ff" textLength="21.1" lengthAdjust="spacingAndGlyphs" x="570" y="470.7">GND</text>
<circle cx="564.8" cy="447.7" r="3" stroke="#8b0000" stroke-width="1.15" fill="#fff"/>
<circle cx="564.8" cy="467.9" r="3" stroke="#8b0000" stroke-width="1.15" fill="#fff"/>
<text font-size="10.12" fill="#ff0000" text-anchor="end" textLength="25.73" lengthAdjust="spacingAndGlyphs" transform="translate(600.4 370.3) rotate(-90)">VOUT</text>
<text font-size="10.12" fill="#ff0000" textLength="25.73" lengthAdjust="spacingAndGlyphs" transform="translate(600.4 545) rotate(-90)">VOUT</text>
<text font-size="10.12" fill="#000" text-anchor="end" textLength="21.1" lengthAdjust="spacingAndGlyphs" transform="translate(621.4 370.3) rotate(-90)">GND</text>
<text font-size="10.12" fill="#000" textLength="21.1" lengthAdjust="spacingAndGlyphs" transform="translate(621.4 545) rotate(-90)">GND</text>
<text font-size="10.12" fill="#ff0000" text-anchor="end" textLength="25.73" lengthAdjust="spacingAndGlyphs" transform="translate(681.4 370.3) rotate(-90)">VOUT</text>
<text font-size="10.12" fill="#ff0000" textLength="25.73" lengthAdjust="spacingAndGlyphs" transform="translate(681.4 545) rotate(-90)">VOUT</text>
<text font-size="10.12" fill="#000" text-anchor="end" textLength="21.1" lengthAdjust="spacingAndGlyphs" transform="translate(702.4 370.3) rotate(-90)">GND</text>
<text font-size="10.12" fill="#000" textLength="21.1" lengthAdjust="spacingAndGlyphs" transform="translate(702.4 545) rotate(-90)">GND</text>
<text font-size="10.12" fill="#ff0000" text-anchor="end" textLength="25.73" lengthAdjust="spacingAndGlyphs" x="735.3" y="411.9">VOUT</text>
<text font-size="10.12" fill="#000" text-anchor="end" textLength="21.1" lengthAdjust="spacingAndGlyphs" x="735.3" y="429.9">GND</text>
<text font-size="10.12" fill="#ff0000" text-anchor="end" textLength="25.73" lengthAdjust="spacingAndGlyphs" x="735.3" y="490.9">VOUT</text>
<text font-size="10.12" fill="#000" text-anchor="end" textLength="21.1" lengthAdjust="spacingAndGlyphs" x="735.3" y="508.9">GND</text>
<text font-size="10.5" fill="#15158c" x="612.6" y="455.5">Güç Dağıtım Kartı</text>
<rect x="426.3" y="446" width="10" height="3.2" fill="#c4c4c4"/>
<rect x="515.7" y="446" width="10.3" height="3.2" fill="#c4c4c4"/>
<rect x="436.2" y="437.8" width="6.6" height="20" rx="1.2" fill="url(#gm)"/>
<rect x="444.3" y="437.8" width="11.7" height="20" fill="url(#gm)"/>
<rect x="442.8" y="438.3" width="1.5" height="19" fill="#c8c8c8"/>
<rect x="456" y="437.8" width="40.1" height="20" fill="url(#gg)"/>
<rect x="496.1" y="437.8" width="19.7" height="20" rx="1.2" fill="url(#gm)"/>
<text font-size="9.3" fill="#0a0a0a" text-anchor="middle" x="477.8" y="433">Sigorta (90 A)</text>
<path d="M421 492L421 506.5" stroke="#c07070" stroke-width="1.3" />
<path d="M421 516.8L421 531.2" stroke="#c07070" stroke-width="1.3" />
<circle cx="421" cy="506.6" r="1.3" fill="#a03030"/>
<circle cx="421" cy="516.8" r="1.3" fill="#a03030"/>
<path d="M415.5 506.2L421 516.8" stroke="#a03030" stroke-width="0.9" />
<text font-size="9.27" fill="#0a0a0a" transform="translate(408.4 524.1) rotate(-90)">Anahtar</text>
<rect x="418.7" y="567.5" width="9.3" height="19.8" fill="#f8f8f8"/>
<path d="M421.5 587C419.6 630 418.4 690 421.6 710Q424 722 435.7 717.2" stroke="#ff0000" stroke-width="2.8" fill="none"/>
<path d="M424.8 587C422.9 630 421.7 688 424.5 706Q426.5 716.5 435.7 714.2" stroke="#000" stroke-width="2.6" fill="none"/>
<rect x="436.2" y="573" width="90.5" height="150" fill="url(#bs)" stroke="#666" stroke-width="1.6"/>
<rect x="465" y="572.2" width="22.1" height="151.6" fill="#000"/>
<text font-size="12.98" fill="#fff" textLength="142.23" lengthAdjust="spacingAndGlyphs" transform="translate(481.3 718.7) rotate(-90)">&lt;&lt; 14.8V 5000mAh &gt;&gt;</text>
<text font-size="13.2" fill="#222" textLength="34.19" lengthAdjust="spacingAndGlyphs" transform="translate(456.3 714.8) rotate(-90)">YDCD</text>
<text font-size="13.09" fill="#000" font-weight="bold" textLength="99.05" lengthAdjust="spacingAndGlyphs" transform="translate(505.6 714.3) rotate(-90)">LI-PO BATTERY</text>
<text font-size="5.28" fill="#222" textLength="20.62" lengthAdjust="spacingAndGlyphs" transform="translate(521.3 716) rotate(-90)">CE RoHS</text>
<text font-size="9.3" fill="#0a0a0a" text-anchor="middle" x="486" y="565.8">Li-Po Pil</text>
<rect x="757" y="534.7" width="69" height="80" rx="2.5" stroke="#8b0000" stroke-width="1.15" fill="none"/>
<path d="M766 514.7L766 534.7" stroke="#ff0000" stroke-width="1.15" />
<text font-size="10.12" fill="#ff0000" text-anchor="end" textLength="21.1" lengthAdjust="spacingAndGlyphs" transform="translate(769.4 538.2) rotate(-90)">GND</text>
<text font-size="10.12" fill="#ff0000" textLength="5.85" lengthAdjust="spacingAndGlyphs" transform="translate(764.8 529.1) rotate(-90)">2</text>
<path d="M776 514.7L776 534.7" stroke="#ff0000" stroke-width="1.15" />
<text font-size="10.12" fill="#ff0000" text-anchor="end" textLength="19.14" lengthAdjust="spacingAndGlyphs" transform="translate(779.4 538.2) rotate(-90)">VCC</text>
<text font-size="10.12" fill="#ff0000" textLength="5.85" lengthAdjust="spacingAndGlyphs" transform="translate(774.8 529.1) rotate(-90)">7</text>
<path d="M796 514.7L796 534.7" stroke="#8b0000" stroke-width="1.15" />
<text font-size="10.12" fill="#0000ff" text-anchor="end" textLength="12.15" lengthAdjust="spacingAndGlyphs" transform="translate(799.4 538.2) rotate(-90)">5V</text>
<text font-size="10.12" fill="#0000ff" textLength="5.85" lengthAdjust="spacingAndGlyphs" transform="translate(794.8 529.1) rotate(-90)">1</text>
<path d="M816 514.7L816 534.7" stroke="#8b0000" stroke-width="1.15" />
<text font-size="10.12" fill="#0000ff" text-anchor="end" textLength="22.58" lengthAdjust="spacingAndGlyphs" transform="translate(819.4 538.2) rotate(-90)">PWM</text>
<text font-size="10.12" fill="#0000ff" textLength="5.85" lengthAdjust="spacingAndGlyphs" transform="translate(814.8 529.1) rotate(-90)">8</text>
<path d="M766 614.7L766 634.7" stroke="#000" stroke-width="1.15" />
<text font-size="10.12" fill="#000" textLength="21.1" lengthAdjust="spacingAndGlyphs" transform="translate(769.4 611.7) rotate(-90)">GND</text>
<text font-size="10.12" fill="#000" textLength="5.85" lengthAdjust="spacingAndGlyphs" transform="translate(764.8 627.5) rotate(-90)">5</text>
<path d="M796 614.7L796 654.2" stroke="#8b0000" stroke-width="1.15" />
<text font-size="10.12" fill="#0000ff" textLength="25.45" lengthAdjust="spacingAndGlyphs" transform="translate(799.4 611.7) rotate(-90)">OUT3</text>
<text font-size="10.12" fill="#0000ff" textLength="5.85" lengthAdjust="spacingAndGlyphs" transform="translate(794.8 627.5) rotate(-90)">6</text>
<path d="M806 614.7L806 654.2" stroke="#8b0000" stroke-width="1.15" />
<text font-size="10.12" fill="#0000ff" textLength="25.45" lengthAdjust="spacingAndGlyphs" transform="translate(809.4 611.7) rotate(-90)">OUT2</text>
<text font-size="10.12" fill="#0000ff" textLength="5.85" lengthAdjust="spacingAndGlyphs" transform="translate(804.8 627.5) rotate(-90)">4</text>
<path d="M816 614.7L816 654.2" stroke="#8b0000" stroke-width="1.15" />
<text font-size="10.12" fill="#0000ff" textLength="25.45" lengthAdjust="spacingAndGlyphs" transform="translate(819.4 611.7) rotate(-90)">OUT1</text>
<text font-size="10.12" fill="#0000ff" textLength="5.85" lengthAdjust="spacingAndGlyphs" transform="translate(814.8 627.5) rotate(-90)">3</text>
<text font-size="8.6" fill="#0a0a0a" x="828.5" y="577.9">ESC</text>
<rect x="893" y="532.7" width="69" height="80" rx="2.5" stroke="#8b0000" stroke-width="1.15" fill="none"/>
<path d="M902 512.7L902 532.7" stroke="#ff0000" stroke-width="1.15" />
<text font-size="10.12" fill="#ff0000" text-anchor="end" textLength="21.1" lengthAdjust="spacingAndGlyphs" transform="translate(905.4 536.2) rotate(-90)">GND</text>
<text font-size="10.12" fill="#ff0000" textLength="5.85" lengthAdjust="spacingAndGlyphs" transform="translate(900.8 527.1) rotate(-90)">2</text>
<path d="M912 512.7L912 532.7" stroke="#ff0000" stroke-width="1.15" />
<text font-size="10.12" fill="#ff0000" text-anchor="end" textLength="19.14" lengthAdjust="spacingAndGlyphs" transform="translate(915.4 536.2) rotate(-90)">VCC</text>
<text font-size="10.12" fill="#ff0000" textLength="5.85" lengthAdjust="spacingAndGlyphs" transform="translate(910.8 527.1) rotate(-90)">7</text>
<path d="M932 512.7L932 532.7" stroke="#8b0000" stroke-width="1.15" />
<text font-size="10.12" fill="#0000ff" text-anchor="end" textLength="12.15" lengthAdjust="spacingAndGlyphs" transform="translate(935.4 536.2) rotate(-90)">5V</text>
<text font-size="10.12" fill="#0000ff" textLength="5.85" lengthAdjust="spacingAndGlyphs" transform="translate(930.8 527.1) rotate(-90)">1</text>
<path d="M952 512.7L952 532.7" stroke="#8b0000" stroke-width="1.15" />
<text font-size="10.12" fill="#0000ff" text-anchor="end" textLength="22.58" lengthAdjust="spacingAndGlyphs" transform="translate(955.4 536.2) rotate(-90)">PWM</text>
<text font-size="10.12" fill="#0000ff" textLength="5.85" lengthAdjust="spacingAndGlyphs" transform="translate(950.8 527.1) rotate(-90)">8</text>
<path d="M902 612.7L902 632.7" stroke="#000" stroke-width="1.15" />
<text font-size="10.12" fill="#000" textLength="21.1" lengthAdjust="spacingAndGlyphs" transform="translate(905.4 609.7) rotate(-90)">GND</text>
<text font-size="10.12" fill="#000" textLength="5.85" lengthAdjust="spacingAndGlyphs" transform="translate(900.8 625.5) rotate(-90)">5</text>
<path d="M932 612.7L932 652.2" stroke="#8b0000" stroke-width="1.15" />
<text font-size="10.12" fill="#0000ff" textLength="25.45" lengthAdjust="spacingAndGlyphs" transform="translate(935.4 609.7) rotate(-90)">OUT3</text>
<text font-size="10.12" fill="#0000ff" textLength="5.85" lengthAdjust="spacingAndGlyphs" transform="translate(930.8 625.5) rotate(-90)">6</text>
<path d="M942 612.7L942 652.2" stroke="#8b0000" stroke-width="1.15" />
<text font-size="10.12" fill="#0000ff" textLength="25.45" lengthAdjust="spacingAndGlyphs" transform="translate(945.4 609.7) rotate(-90)">OUT2</text>
<text font-size="10.12" fill="#0000ff" textLength="5.85" lengthAdjust="spacingAndGlyphs" transform="translate(940.8 625.5) rotate(-90)">4</text>
<path d="M952 612.7L952 652.2" stroke="#8b0000" stroke-width="1.15" />
<text font-size="10.12" fill="#0000ff" textLength="25.45" lengthAdjust="spacingAndGlyphs" transform="translate(955.4 609.7) rotate(-90)">OUT1</text>
<text font-size="10.12" fill="#0000ff" textLength="5.85" lengthAdjust="spacingAndGlyphs" transform="translate(950.8 625.5) rotate(-90)">3</text>
<text font-size="8.6" fill="#0a0a0a" x="964.5" y="575.9">ESC2</text>
<rect x="1030" y="532.4" width="69" height="80" rx="2.5" stroke="#8b0000" stroke-width="1.15" fill="none"/>
<path d="M1039 512.4L1039 532.4" stroke="#ff0000" stroke-width="1.15" />
<text font-size="10.12" fill="#ff0000" text-anchor="end" textLength="21.1" lengthAdjust="spacingAndGlyphs" transform="translate(1042.4 535.9) rotate(-90)">GND</text>
<text font-size="10.12" fill="#ff0000" textLength="5.85" lengthAdjust="spacingAndGlyphs" transform="translate(1037.8 526.8) rotate(-90)">2</text>
<path d="M1049 512.4L1049 532.4" stroke="#ff0000" stroke-width="1.15" />
<text font-size="10.12" fill="#ff0000" text-anchor="end" textLength="19.14" lengthAdjust="spacingAndGlyphs" transform="translate(1052.4 535.9) rotate(-90)">VCC</text>
<text font-size="10.12" fill="#ff0000" textLength="5.85" lengthAdjust="spacingAndGlyphs" transform="translate(1047.8 526.8) rotate(-90)">7</text>
<path d="M1069 512.4L1069 532.4" stroke="#8b0000" stroke-width="1.15" />
<text font-size="10.12" fill="#0000ff" text-anchor="end" textLength="12.15" lengthAdjust="spacingAndGlyphs" transform="translate(1072.4 535.9) rotate(-90)">5V</text>
<text font-size="10.12" fill="#0000ff" textLength="5.85" lengthAdjust="spacingAndGlyphs" transform="translate(1067.8 526.8) rotate(-90)">1</text>
<path d="M1089 512.4L1089 532.4" stroke="#8b0000" stroke-width="1.15" />
<text font-size="10.12" fill="#0000ff" text-anchor="end" textLength="22.58" lengthAdjust="spacingAndGlyphs" transform="translate(1092.4 535.9) rotate(-90)">PWM</text>
<text font-size="10.12" fill="#0000ff" textLength="5.85" lengthAdjust="spacingAndGlyphs" transform="translate(1087.8 526.8) rotate(-90)">8</text>
<path d="M1039 612.4L1039 632.4" stroke="#000" stroke-width="1.15" />
<text font-size="10.12" fill="#000" textLength="21.1" lengthAdjust="spacingAndGlyphs" transform="translate(1042.4 609.4) rotate(-90)">GND</text>
<text font-size="10.12" fill="#000" textLength="5.85" lengthAdjust="spacingAndGlyphs" transform="translate(1037.8 625.2) rotate(-90)">5</text>
<path d="M1069 612.4L1069 651.9" stroke="#8b0000" stroke-width="1.15" />
<text font-size="10.12" fill="#0000ff" textLength="25.45" lengthAdjust="spacingAndGlyphs" transform="translate(1072.4 609.4) rotate(-90)">OUT3</text>
<text font-size="10.12" fill="#0000ff" textLength="5.85" lengthAdjust="spacingAndGlyphs" transform="translate(1067.8 625.2) rotate(-90)">6</text>
<path d="M1079 612.4L1079 651.9" stroke="#8b0000" stroke-width="1.15" />
<text font-size="10.12" fill="#0000ff" textLength="25.45" lengthAdjust="spacingAndGlyphs" transform="translate(1082.4 609.4) rotate(-90)">OUT2</text>
<text font-size="10.12" fill="#0000ff" textLength="5.85" lengthAdjust="spacingAndGlyphs" transform="translate(1077.8 625.2) rotate(-90)">4</text>
<path d="M1089 612.4L1089 651.9" stroke="#8b0000" stroke-width="1.15" />
<text font-size="10.12" fill="#0000ff" textLength="25.45" lengthAdjust="spacingAndGlyphs" transform="translate(1092.4 609.4) rotate(-90)">OUT1</text>
<text font-size="10.12" fill="#0000ff" textLength="5.85" lengthAdjust="spacingAndGlyphs" transform="translate(1087.8 625.2) rotate(-90)">3</text>
<text font-size="8.6" fill="#0a0a0a" x="1101.5" y="575.6">ESC3</text>
<rect x="1169" y="532.4" width="69" height="80" rx="2.5" stroke="#8b0000" stroke-width="1.15" fill="none"/>
<path d="M1178 512.4L1178 532.4" stroke="#ff0000" stroke-width="1.15" />
<text font-size="10.12" fill="#ff0000" text-anchor="end" textLength="21.1" lengthAdjust="spacingAndGlyphs" transform="translate(1181.4 535.9) rotate(-90)">GND</text>
<text font-size="10.12" fill="#ff0000" textLength="5.85" lengthAdjust="spacingAndGlyphs" transform="translate(1176.8 526.8) rotate(-90)">2</text>
<path d="M1188 512.4L1188 532.4" stroke="#ff0000" stroke-width="1.15" />
<text font-size="10.12" fill="#ff0000" text-anchor="end" textLength="19.14" lengthAdjust="spacingAndGlyphs" transform="translate(1191.4 535.9) rotate(-90)">VCC</text>
<text font-size="10.12" fill="#ff0000" textLength="5.85" lengthAdjust="spacingAndGlyphs" transform="translate(1186.8 526.8) rotate(-90)">7</text>
<path d="M1208 512.4L1208 532.4" stroke="#8b0000" stroke-width="1.15" />
<text font-size="10.12" fill="#0000ff" text-anchor="end" textLength="12.15" lengthAdjust="spacingAndGlyphs" transform="translate(1211.4 535.9) rotate(-90)">5V</text>
<text font-size="10.12" fill="#0000ff" textLength="5.85" lengthAdjust="spacingAndGlyphs" transform="translate(1206.8 526.8) rotate(-90)">1</text>
<path d="M1228 512.4L1228 532.4" stroke="#8b0000" stroke-width="1.15" />
<text font-size="10.12" fill="#0000ff" text-anchor="end" textLength="22.58" lengthAdjust="spacingAndGlyphs" transform="translate(1231.4 535.9) rotate(-90)">PWM</text>
<text font-size="10.12" fill="#0000ff" textLength="5.85" lengthAdjust="spacingAndGlyphs" transform="translate(1226.8 526.8) rotate(-90)">8</text>
<path d="M1178 612.4L1178 632.4" stroke="#000" stroke-width="1.15" />
<text font-size="10.12" fill="#000" textLength="21.1" lengthAdjust="spacingAndGlyphs" transform="translate(1181.4 609.4) rotate(-90)">GND</text>
<text font-size="10.12" fill="#000" textLength="5.85" lengthAdjust="spacingAndGlyphs" transform="translate(1176.8 625.2) rotate(-90)">5</text>
<path d="M1208 612.4L1208 651.9" stroke="#8b0000" stroke-width="1.15" />
<text font-size="10.12" fill="#0000ff" textLength="25.45" lengthAdjust="spacingAndGlyphs" transform="translate(1211.4 609.4) rotate(-90)">OUT3</text>
<text font-size="10.12" fill="#0000ff" textLength="5.85" lengthAdjust="spacingAndGlyphs" transform="translate(1206.8 625.2) rotate(-90)">6</text>
<path d="M1218 612.4L1218 651.9" stroke="#8b0000" stroke-width="1.15" />
<text font-size="10.12" fill="#0000ff" textLength="25.45" lengthAdjust="spacingAndGlyphs" transform="translate(1221.4 609.4) rotate(-90)">OUT2</text>
<text font-size="10.12" fill="#0000ff" textLength="5.85" lengthAdjust="spacingAndGlyphs" transform="translate(1216.8 625.2) rotate(-90)">4</text>
<path d="M1228 612.4L1228 651.9" stroke="#8b0000" stroke-width="1.15" />
<text font-size="10.12" fill="#0000ff" textLength="25.45" lengthAdjust="spacingAndGlyphs" transform="translate(1231.4 609.4) rotate(-90)">OUT1</text>
<text font-size="10.12" fill="#0000ff" textLength="5.85" lengthAdjust="spacingAndGlyphs" transform="translate(1226.8 625.2) rotate(-90)">3</text>
<text font-size="8.6" fill="#0a0a0a" x="1240.5" y="575.6">ESC4</text>
<circle cx="816" cy="683.5" r="40.25" stroke="#000" stroke-width="1.0" fill="none"/>
<text font-size="9.24" fill="#0000ff" text-anchor="end" textLength="17.48" lengthAdjust="spacingAndGlyphs" transform="translate(799.4 656.3) rotate(-90)">VCC</text>
<text font-size="9.24" fill="#0000ff" text-anchor="end" textLength="25.8" lengthAdjust="spacingAndGlyphs" transform="translate(809.4 656.3) rotate(-90)">Signal</text>
<text font-size="9.24" fill="#0000ff" text-anchor="end" textLength="19.26" lengthAdjust="spacingAndGlyphs" transform="translate(819.4 656.3) rotate(-90)">GND</text>
<text font-size="15.18" fill="#000" textLength="39.88" lengthAdjust="spacingAndGlyphs" transform="translate(845.6 704.1) rotate(-90)">Motor</text>
<text font-size="9.25" fill="#0a0a0a" text-anchor="middle" x="815.8" y="732.8">Drone Motor</text>
<text font-size="9.25" fill="#0a0a0a" text-anchor="middle" x="811" y="743.7">M4</text>
<circle cx="952" cy="681.5" r="40.25" stroke="#000" stroke-width="1.0" fill="none"/>
<text font-size="9.24" fill="#0000ff" text-anchor="end" textLength="17.48" lengthAdjust="spacingAndGlyphs" transform="translate(935.4 654.3) rotate(-90)">VCC</text>
<text font-size="9.24" fill="#0000ff" text-anchor="end" textLength="25.8" lengthAdjust="spacingAndGlyphs" transform="translate(945.4 654.3) rotate(-90)">Signal</text>
<text font-size="9.24" fill="#0000ff" text-anchor="end" textLength="19.26" lengthAdjust="spacingAndGlyphs" transform="translate(955.4 654.3) rotate(-90)">GND</text>
<text font-size="15.18" fill="#000" textLength="39.88" lengthAdjust="spacingAndGlyphs" transform="translate(981.6 702.1) rotate(-90)">Motor</text>
<text font-size="9.25" fill="#0a0a0a" text-anchor="middle" x="950.8" y="729.8">Drone Motor</text>
<text font-size="9.25" fill="#0a0a0a" text-anchor="middle" x="950" y="741.7">M3</text>
<circle cx="1089" cy="681.5" r="40.25" stroke="#000" stroke-width="1.0" fill="none"/>
<text font-size="9.24" fill="#0000ff" text-anchor="end" textLength="17.48" lengthAdjust="spacingAndGlyphs" transform="translate(1072.4 654.3) rotate(-90)">VCC</text>
<text font-size="9.24" fill="#0000ff" text-anchor="end" textLength="25.8" lengthAdjust="spacingAndGlyphs" transform="translate(1082.4 654.3) rotate(-90)">Signal</text>
<text font-size="9.24" fill="#0000ff" text-anchor="end" textLength="19.26" lengthAdjust="spacingAndGlyphs" transform="translate(1092.4 654.3) rotate(-90)">GND</text>
<text font-size="15.18" fill="#000" textLength="39.88" lengthAdjust="spacingAndGlyphs" transform="translate(1118.6 702.1) rotate(-90)">Motor</text>
<text font-size="9.25" fill="#0a0a0a" text-anchor="middle" x="1092.3" y="730.8">Drone Motor</text>
<text font-size="9.25" fill="#0a0a0a" text-anchor="middle" x="1090.8" y="741.7">M2</text>
<circle cx="1228" cy="681.5" r="40.25" stroke="#000" stroke-width="1.0" fill="none"/>
<text font-size="9.24" fill="#0000ff" text-anchor="end" textLength="17.48" lengthAdjust="spacingAndGlyphs" transform="translate(1211.4 654.3) rotate(-90)">VCC</text>
<text font-size="9.24" fill="#0000ff" text-anchor="end" textLength="25.8" lengthAdjust="spacingAndGlyphs" transform="translate(1221.4 654.3) rotate(-90)">Signal</text>
<text font-size="9.24" fill="#0000ff" text-anchor="end" textLength="19.26" lengthAdjust="spacingAndGlyphs" transform="translate(1231.4 654.3) rotate(-90)">GND</text>
<text font-size="15.18" fill="#000" textLength="39.88" lengthAdjust="spacingAndGlyphs" transform="translate(1257.6 702.1) rotate(-90)">Motor</text>
<text font-size="9.25" fill="#0a0a0a" text-anchor="middle" x="1231" y="729.8">Drone Motor</text>
<text font-size="9.25" fill="#0a0a0a" text-anchor="middle" x="1227" y="740.7">M1</text>
<text font-size="13.36" fill="#111" x="11" y="529.8">Proje Adı: CİHANGİR İHA ELEKTRONİK DEVRE ŞEMASI</text>
<text font-size="13.3" fill="#111" x="11" y="548.8">HAZIRLAYAN: ZEYNEP YAZICI</text>
<text font-size="13.3" fill="#111" x="11" y="564.7">15.02.2025</text>
<path d="M141 80.5L117 80.5L117 420.5L558 420.5" stroke="#000000" stroke-width="1.15" fill="none" stroke-linejoin="round" stroke-linecap="round"/>
<path d="M141 100.5L124 100.5L124 403.5L558 403.5" stroke="#ff0000" stroke-width="1.15" fill="none" stroke-linejoin="round" stroke-linecap="round"/>
<path d="M141 120.5L131 120.5L131 396.5L279 396.5L279 352.5" stroke="#000000" stroke-width="1.15" fill="none" stroke-linejoin="round" stroke-linecap="round"/>
<path d="M141 140.5L136 140.5L136 257.5L279 257.5L279 302.5" stroke="#ff0000" stroke-width="1.15" fill="none" stroke-linejoin="round" stroke-linecap="round"/>
<path d="M360.5 80.5L535 80.5L535 36.5L763 36.5L763 170.5L730 170.5" stroke="#ffff00" stroke-width="1.15" fill="none" stroke-linejoin="round" stroke-linecap="round"/>
<path d="M360.5 100.5L543 100.5L543 44.5L738 44.5L738 160.5L730 160.5" stroke="#ffff00" stroke-width="1.15" fill="none" stroke-linejoin="round" stroke-linecap="round"/>
<path d="M360.5 120.5L553 120.5L553 50.5L752 50.5L752 140.5L730 140.5" stroke="#ffff00" stroke-width="1.15" fill="none" stroke-linejoin="round" stroke-linecap="round"/>
<path d="M360.5 140.5L579 140.5L579 170.5L590 170.5" stroke="#ff0000" stroke-width="1.15" fill="none" stroke-linejoin="round" stroke-linecap="round"/>
<path d="M360.5 220.5L386 220.5L386 280.5L590 280.5" stroke="#000000" stroke-width="1.15" fill="none" stroke-linejoin="round" stroke-linecap="round"/>
<path d="M730 110.5L758 110.5L758 64.5L565 64.5L565 304.5L618 304.5L618 367" stroke="#000000" stroke-width="1.15" fill="none" stroke-linejoin="round" stroke-linecap="round"/>
<path d="M730 90.5L747 90.5L747 57.5L559 57.5L559 311.5L597 311.5L597 367" stroke="#ff0000" stroke-width="1.15" fill="none" stroke-linejoin="round" stroke-linecap="round"/>
<path d="M730 120.5L789 120.5L789 177.5L796 177.5" stroke="#0000ff" stroke-width="1.15" fill="none" stroke-linejoin="round" stroke-linecap="round"/>
<path d="M730 130.5L784 130.5L784 167.5L796 167.5" stroke="#0000ff" stroke-width="1.15" fill="none" stroke-linejoin="round" stroke-linecap="round"/>
<path d="M730 150.5L780 150.5L780 207.5L796 207.5" stroke="#000000" stroke-width="1.15" fill="none" stroke-linejoin="round" stroke-linecap="round"/>
<path d="M542 247L542 296.5L657.5 296.5L657.5 286.5" stroke="#ffff00" stroke-width="1.15" fill="none" stroke-linejoin="round" stroke-linecap="round"/>
<path d="M847 35.5L771 35.5L771 342.5L678 342.5L678 367" stroke="#ff0000" stroke-width="1.15" fill="none" stroke-linejoin="round" stroke-linecap="round"/>
<path d="M847 45.5L776 45.5L776 347L699 347L699 367" stroke="#000000" stroke-width="1.15" fill="none" stroke-linejoin="round" stroke-linecap="round"/>
<path d="M945 35.5L966.5 35.5" stroke="#ff0000" stroke-width="1.15" fill="none" stroke-linejoin="round" stroke-linecap="round"/>
<path d="M945 45.5L966.5 45.5" stroke="#000000" stroke-width="1.15" fill="none" stroke-linejoin="round" stroke-linecap="round"/>
<path d="M876 55.5L876 75.2" stroke="#8b0000" stroke-width="1.15" />
<path d="M876 75.2L876 97.5" stroke="#ff0000" stroke-width="1.15" fill="none" stroke-linejoin="round" stroke-linecap="round"/>
<path d="M886 55.5L886 75.2" stroke="#8b0000" stroke-width="1.15" />
<path d="M886 75.2L886 97.5" stroke="#ff0000" stroke-width="1.15" fill="none" stroke-linejoin="round" stroke-linecap="round"/>
<path d="M896 55.5L896 75.2" stroke="#8b0000" stroke-width="1.15" />
<path d="M896 75.2L896 97.5" stroke="#ff0000" stroke-width="1.15" fill="none" stroke-linejoin="round" stroke-linecap="round"/>
<path d="M906 55.5L906 75.2" stroke="#8b0000" stroke-width="1.15" />
<path d="M906 75.2L906 97.5" stroke="#ff0000" stroke-width="1.15" fill="none" stroke-linejoin="round" stroke-linecap="round"/>
<path d="M916 55.5L916 75.2" stroke="#8b0000" stroke-width="1.15" />
<path d="M916 75.2L916 97.5" stroke="#000000" stroke-width="1.15" fill="none" stroke-linejoin="round" stroke-linecap="round"/>
<path d="M926 55.5L926 75.2" stroke="#8b0000" stroke-width="1.15" />
<path d="M926 75.2L926 97.5" stroke="#000000" stroke-width="1.15" fill="none" stroke-linejoin="round" stroke-linecap="round"/>
<path d="M994 63.5L941 63.5L941 97.5" stroke="#ff0000" stroke-width="1.15" fill="none" stroke-linejoin="round" stroke-linecap="round"/>
<path d="M1014 62.5L1014 72.5L951 72.5L951 97.5" stroke="#ffff00" stroke-width="1.15" fill="none" stroke-linejoin="round" stroke-linecap="round"/>
<path d="M1034 62.5L1034 82.5L961 82.5L961 97.5" stroke="#000000" stroke-width="1.15" fill="none" stroke-linejoin="round" stroke-linecap="round"/>
<path d="M1176 162.5L1187 162.5L1187 167.5L1212 167.5" stroke="#ff0000" stroke-width="1.15" fill="none" stroke-linejoin="round" stroke-linecap="round"/>
<path d="M1176 172.5L1187 172.5L1187 177.5L1212 177.5" stroke="#0000ff" stroke-width="1.15" fill="none" stroke-linejoin="round" stroke-linecap="round"/>
<path d="M1176 182.5L1187 182.5L1187 187.5L1212 187.5" stroke="#0000ff" stroke-width="1.15" fill="none" stroke-linejoin="round" stroke-linecap="round"/>
<path d="M1176 212.5L1187 212.5L1187 197.5L1212 197.5" stroke="#000000" stroke-width="1.15" fill="none" stroke-linejoin="round" stroke-linecap="round"/>
<path d="M1176 352.5L1184 352.5L1184 326.5L1230.5 326.5" stroke="#ff0000" stroke-width="1.15" fill="none" stroke-linejoin="round" stroke-linecap="round"/>
<path d="M1176 362.5L1195 362.5L1195 337.5L1230.5 337.5" stroke="#0000ff" stroke-width="1.15" fill="none" stroke-linejoin="round" stroke-linecap="round"/>
<path d="M1176 372.5L1206 372.5L1206 349.5L1230.5 349.5" stroke="#0000ff" stroke-width="1.15" fill="none" stroke-linejoin="round" stroke-linecap="round"/>
<path d="M1176 382.5L1216 382.5L1216 358.5L1230.5 358.5" stroke="#000000" stroke-width="1.15" fill="none" stroke-linejoin="round" stroke-linecap="round"/>
<path d="M911 427.5L911 434.7L1219.5 434.7" stroke="#0000ff" stroke-width="1.15" fill="none" stroke-linejoin="round" stroke-linecap="round"/>
<path d="M871 427.5L871 444.6L1219.5 444.6" stroke="#ff0000" stroke-width="1.15" fill="none" stroke-linejoin="round" stroke-linecap="round"/>
<path d="M881 427.5L881 454.6L1219.5 454.6" stroke="#000000" stroke-width="1.15" fill="none" stroke-linejoin="round" stroke-linecap="round"/>
<path d="M527.5 310.5L550 310.5L550 334.5L785.5 334.5L785.5 347.5L796 347.5" stroke="#000000" stroke-width="1.15" fill="none" stroke-linejoin="round" stroke-linecap="round"/>
<path d="M527.5 340.5L565 340.5L565 317.5L796 317.5" stroke="#0000ff" stroke-width="1.15" fill="none" stroke-linejoin="round" stroke-linecap="round"/>
<path d="M527.5 350.5L575 350.5L575 323.5L787 323.5L787 307.5L796 307.5" stroke="#0000ff" stroke-width="1.15" fill="none" stroke-linejoin="round" stroke-linecap="round"/>
<path d="M527.5 360.5L586 360.5L586 329.5L759 329.5L759 297.5L796 297.5" stroke="#ff0000" stroke-width="1.15" fill="none" stroke-linejoin="round" stroke-linecap="round"/>
<path d="M597 547.5L597 771.5L1148 771.5L1148 508.8L1188 508.8L1188 512.5" stroke="#ff0000" stroke-width="1.15" fill="none" stroke-linejoin="round" stroke-linecap="round"/>
<path d="M618 547.5L618 764.5L1153 764.5L1153 512.7L1178 512.7" stroke="#000000" stroke-width="1.15" fill="none" stroke-linejoin="round" stroke-linecap="round"/>
<path d="M678 547.5L678 755.5L1013 755.5L1013 501.8L1049 501.8L1049 512.5" stroke="#ff0000" stroke-width="1.15" fill="none" stroke-linejoin="round" stroke-linecap="round"/>
<path d="M699 547.5L699 749.5L1020 749.5L1020 512.7L1039 512.7" stroke="#000000" stroke-width="1.15" fill="none" stroke-linejoin="round" stroke-linecap="round"/>
<path d="M738 408.5L762 408.5L762 477L912 477L912 512.5" stroke="#ff0000" stroke-width="1.15" fill="none" stroke-linejoin="round" stroke-linecap="round"/>
<path d="M738 426.5L758 426.5L758 479.5L902 479.5L902 512.5" stroke="#000000" stroke-width="1.15" fill="none" stroke-linejoin="round" stroke-linecap="round"/>
<path d="M738 487.5L776 487.5L776 514.5" stroke="#ff0000" stroke-width="1.15" fill="none" stroke-linejoin="round" stroke-linecap="round"/>
<path d="M738 505.5L766 505.5L766 514.5" stroke="#000000" stroke-width="1.15" fill="none" stroke-linejoin="round" stroke-linecap="round"/>
<path d="M816 514.5L816 472.5L971 472.5L971 427.5" stroke="#ffff00" stroke-width="1.15" fill="none" stroke-linejoin="round" stroke-linecap="round"/>
<path d="M952 512.5L952 478.5L981 478.5L981 427.5" stroke="#ffff00" stroke-width="1.15" fill="none" stroke-linejoin="round" stroke-linecap="round"/>
<path d="M991 427.5L991 476.5L1089 476.5L1089 512.5" stroke="#ffff00" stroke-width="1.15" fill="none" stroke-linejoin="round" stroke-linecap="round"/>
<path d="M1001 427.5L1001 470.5L1228 470.5L1228 512.5" stroke="#ffff00" stroke-width="1.15" fill="none" stroke-linejoin="round" stroke-linecap="round"/>
<path d="M526 447.5L561.8 447.5" stroke="#ff0000" stroke-width="1.15" fill="none" stroke-linejoin="round" stroke-linecap="round"/>
<path d="M426.3 447.5L421 447.5L421 492" stroke="#ff0000" stroke-width="1.15" fill="none" stroke-linejoin="round" stroke-linecap="round"/>
<path d="M421 531.2L421 571.4" stroke="#ff0000" stroke-width="1.15" fill="none" stroke-linejoin="round" stroke-linecap="round"/>
<path d="M561.8 467.9L425 467.9L425 571.4" stroke="#000000" stroke-width="1.15" fill="none" stroke-linejoin="round" stroke-linecap="round"/>
</svg>
</body></html>
